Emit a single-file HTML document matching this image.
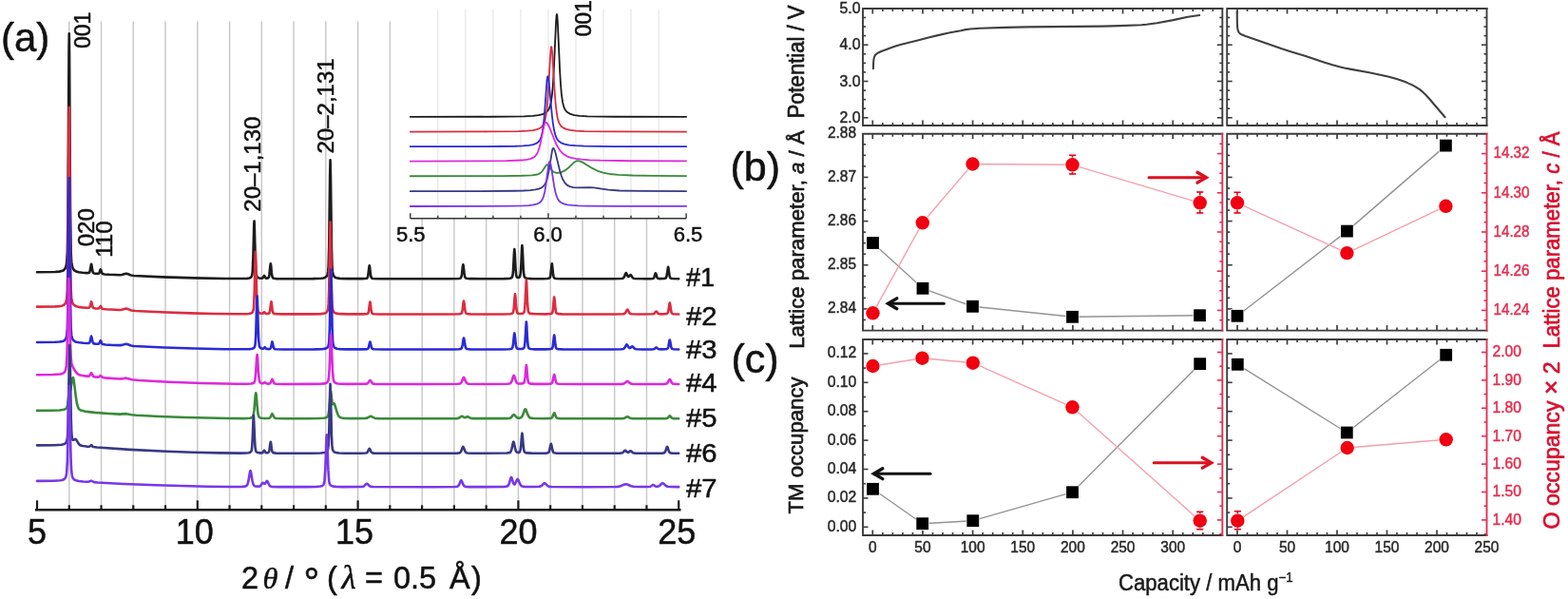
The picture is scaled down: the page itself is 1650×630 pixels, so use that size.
<!DOCTYPE html><html><head><meta charset="utf-8"><title>Figure</title><style>html,body{margin:0;padding:0;background:#fff;width:1650px;height:630px;overflow:hidden}svg{display:block;filter:blur(0.3px)}</style></head><body><svg width="1650" height="630" viewBox="0 0 1650 630"><rect width="100%" height="100%" fill="#fff"/><line x1="72.76" y1="22.5" x2="72.76" y2="535.3" stroke="#c6c6c6" stroke-width="1.4"/><line x1="106.52" y1="22.5" x2="106.52" y2="535.3" stroke="#c6c6c6" stroke-width="1.4"/><line x1="140.28" y1="22.5" x2="140.28" y2="535.3" stroke="#c6c6c6" stroke-width="1.4"/><line x1="174.04" y1="22.5" x2="174.04" y2="535.3" stroke="#c6c6c6" stroke-width="1.4"/><line x1="207.8" y1="22.5" x2="207.8" y2="535.3" stroke="#c6c6c6" stroke-width="1.4"/><line x1="241.56" y1="22.5" x2="241.56" y2="535.3" stroke="#c6c6c6" stroke-width="1.4"/><line x1="275.32" y1="22.5" x2="275.32" y2="535.3" stroke="#c6c6c6" stroke-width="1.4"/><line x1="309.08" y1="22.5" x2="309.08" y2="535.3" stroke="#c6c6c6" stroke-width="1.4"/><line x1="342.84" y1="22.5" x2="342.84" y2="535.3" stroke="#c6c6c6" stroke-width="1.4"/><line x1="376.6" y1="22.5" x2="376.6" y2="535.3" stroke="#c6c6c6" stroke-width="1.4"/><line x1="410.36" y1="22.5" x2="410.36" y2="535.3" stroke="#c6c6c6" stroke-width="1.4"/><line x1="444.12" y1="22.5" x2="444.12" y2="535.3" stroke="#c6c6c6" stroke-width="1.4"/><line x1="477.88" y1="22.5" x2="477.88" y2="535.3" stroke="#c6c6c6" stroke-width="1.4"/><line x1="511.64" y1="22.5" x2="511.64" y2="535.3" stroke="#c6c6c6" stroke-width="1.4"/><line x1="545.4" y1="22.5" x2="545.4" y2="535.3" stroke="#c6c6c6" stroke-width="1.4"/><line x1="579.16" y1="22.5" x2="579.16" y2="535.3" stroke="#c6c6c6" stroke-width="1.4"/><line x1="612.92" y1="22.5" x2="612.92" y2="535.3" stroke="#c6c6c6" stroke-width="1.4"/><line x1="646.68" y1="22.5" x2="646.68" y2="535.3" stroke="#c6c6c6" stroke-width="1.4"/><line x1="680.44" y1="22.5" x2="680.44" y2="535.3" stroke="#c6c6c6" stroke-width="1.4"/><polyline points="39,286.23 58.04,285.96 62.36,285.64 65.2,285.06 67.22,284.01 68.57,282.37 69.52,279.91 70.19,276.24 70.87,264.96 71.41,232.55 72.49,54.93 72.76,35.29 73.03,54.95 73.98,217.93 74.65,265.08 75.19,275.17 76,280.13 76.68,282.1 77.62,283.68 78.7,284.7 80.19,285.5 82.75,286.23 86.67,286.81 91.4,287.16 93.56,286.95 94.23,286.29 94.64,285.17 95.99,277.7 96.12,277.71 96.39,278.68 97.2,284.07 97.88,286.54 98.28,287.1 98.82,287.42 100.98,287.81 103.14,287.87 104.09,287.47 104.63,286.55 105.44,283.95 105.84,283.28 106.25,284 107.2,287.04 108.01,288.04 109.76,288.43 115.03,288.82 126.24,289.22 128.26,288.96 131.5,287.98 132.72,287.81 134.07,288.06 137.85,289.54 140.82,290.05 170.66,291.41 203.75,292.41 236.29,293.01 255.87,293.06 259.93,292.88 262.36,292.49 263.84,291.81 264.79,290.71 265.33,288.97 265.73,285.7 266.41,270.92 267.22,238.31 267.49,232.51 267.62,232.51 268.7,270.91 269.24,283.88 269.92,289.57 270.46,290.94 271.13,291.7 271.94,292.18 273.16,292.55 275.86,292.69 276.67,292.15 277.62,290.39 278.02,289.98 278.43,290.39 279.24,291.97 279.91,292.59 281.4,292.64 282.48,292.1 283.02,290.95 283.42,288.9 284.37,279.4 284.77,277.19 285.04,278.24 285.85,286.73 286.39,290.47 287.07,292.18 288.15,292.77 290.71,293.09 295.98,293.21 329.61,293.15 337.98,292.82 340.27,292.49 341.89,291.98 342.84,291.43 343.65,290.63 344.33,289.48 344.73,288.33 345.27,285.18 345.68,279.34 346.22,259.94 347.16,185.56 347.57,168.29 347.97,185.56 348.92,259.94 349.46,279.34 349.86,285.18 350.54,288.78 351.08,290.02 351.75,290.95 352.7,291.7 353.78,292.2 357.56,292.86 364.85,293.14 381.33,293.17 384.3,293.03 385.92,292.71 386.73,291.98 387.27,290.27 388.48,280.18 388.75,279.27 389.02,280.19 389.83,287.61 390.37,290.87 391.05,292.36 391.59,292.72 392.67,292.98 398.21,293.22 418.73,293.28 472.75,293.26 482.61,293.03 483.82,292.83 484.63,292.48 485.04,292.06 485.44,291.15 485.98,288.5 486.93,280.06 487.33,278.29 487.74,280.06 488.55,287.51 489.09,290.67 489.76,292.23 490.71,292.79 494.62,293.17 506.51,293.26 529.2,293.19 536.22,292.83 537.57,292.5 538.51,291.96 539.05,291.17 539.46,289.71 540,284.89 540.94,266.41 541.35,262.11 541.75,266.37 542.56,282.8 543.1,288.73 543.51,290.59 543.91,291.38 544.59,291.85 545.67,291.95 546.62,291.53 547.16,290.71 547.83,287.04 548.37,278.91 549.18,260.41 549.45,258.13 549.86,262.98 550.67,281.61 551.21,288.36 551.61,290.51 552.02,291.47 552.83,292.22 554.18,292.7 559.04,293.12 570.79,293.2 576.05,293.04 578.21,292.53 578.89,291.66 579.3,290.21 580.51,278.86 580.78,277.35 580.92,277.35 582,287.42 582.54,290.82 582.94,291.94 583.35,292.44 584.02,292.77 585.24,293.01 590.37,293.22 606.03,293.28 644.38,293.26 653.7,293.06 655.32,292.77 656.27,292.1 657.08,290.75 658.29,287.74 658.83,287.14 659.24,287.44 660.45,290.09 661.13,290.96 661.8,290.9 663.15,289.23 663.7,289.1 665.86,292.2 666.67,292.76 667.61,293 679.09,293.24 684.76,293.18 687.06,292.98 687.73,292.68 688.27,291.98 689.49,287.97 689.89,287.26 690.3,287.96 691.38,291.68 692.19,292.75 694.21,293.1 698.67,293.01 700.43,292.56 700.83,292.15 701.24,291.3 701.78,288.89 702.99,280.82 703.13,280.82 703.4,281.84 704.61,290.32 705.02,291.66 705.42,292.33 706.1,292.77 707.58,293.05 714.2,293.25" fill="none" stroke="#1c1c1c" stroke-width="2.6" stroke-linejoin="round" stroke-linecap="round"/><polyline points="39,322.64 58.04,322.42 62.36,322.14 65.2,321.66 67.22,320.79 68.57,319.41 69.52,317.35 70.19,314.28 70.87,304.84 71.41,277.73 72.49,129.13 72.76,112.69 73.03,129.15 73.98,265.52 74.65,304.99 75.19,313.44 76,317.6 76.68,319.26 77.62,320.6 78.84,321.56 80.32,322.22 82.89,322.86 86.53,323.38 91.26,323.77 93.56,323.7 94.23,323.25 94.64,322.48 95.99,317.29 96.39,317.98 97.47,322.69 97.88,323.53 98.42,324.01 100.85,324.49 103.82,324.52 104.49,324.05 105.44,322.33 105.84,321.95 106.25,322.39 107.2,324.24 107.74,324.74 108.82,325.04 111.65,325.31 125.97,326.01 128.13,325.78 131.64,324.75 132.85,324.62 134.07,324.88 138.25,326.48 142.58,327.04 168.5,328.31 200.24,329.41 226.3,330.02 249.39,330.3 259.39,330.19 261.95,329.99 263.71,329.64 265.19,328.9 266.14,327.71 266.68,325.82 267.08,322.29 267.76,306.29 268.57,271.01 268.84,264.74 268.97,264.74 270.05,306.29 270.59,320.32 271.27,326.48 271.81,327.95 272.48,328.78 273.97,329.56 276,329.81 276.67,329.53 278.02,328.14 279.37,329.63 280.05,329.98 281.94,329.97 283.15,329.51 283.69,328.57 284.1,326.9 285.04,319.18 285.45,317.39 285.72,318.25 286.53,325.15 287.07,328.18 287.74,329.57 288.82,330.06 291.25,330.31 296.52,330.42 329.07,330.39 337.71,330.15 341.76,329.52 343.52,328.55 344.6,326.99 345.27,324.2 345.68,319.67 346.22,304.61 347.16,246.89 347.57,233.49 347.97,246.89 348.92,304.61 349.46,319.67 349.86,324.2 350.54,326.99 351.08,327.95 351.75,328.67 352.7,329.26 353.78,329.64 357.69,330.17 365.39,330.38 381.87,330.39 384.84,330.27 386.46,330 387,329.74 387.4,329.28 387.94,327.69 389.16,318.33 389.43,317.48 389.7,318.33 390.51,325.22 391.05,328.25 391.72,329.63 392.26,329.96 393.34,330.2 398.88,330.43 419.54,330.48 473.42,330.46 483.28,330.25 485.31,329.74 485.71,329.34 486.12,328.49 486.66,326.02 487.6,318.14 488.01,316.49 488.41,318.14 489.22,325.1 489.76,328.04 490.44,329.51 491.38,330.02 494.49,330.36 502.32,330.46 528.93,330.43 536.89,330.18 539.19,329.6 539.73,329.07 540.13,328.08 540.67,324.82 541.62,312.31 542.02,309.4 542.43,312.3 543.37,324.78 544.05,328.44 544.59,329.31 545.4,329.73 547.02,329.95 549.05,329.83 550.4,329.41 551.21,328.73 551.61,327.88 552.02,325.96 552.56,319.73 553.77,294.59 553.91,294.59 554.18,298.01 554.99,317.26 555.66,325.99 556.07,327.92 556.47,328.78 557.28,329.48 558.5,329.91 562.96,330.32 573.62,330.39 578.48,330.2 580.51,329.68 581.19,328.83 581.73,326.62 582.94,313.65 583.21,312.48 583.62,314.97 584.43,324.53 584.97,328 585.37,329.11 585.78,329.59 587.53,330.16 591.45,330.39 601.31,330.47 645.33,330.47 655.19,330.32 656.67,330.1 657.62,329.56 658.43,328.45 659.64,325.97 660.18,325.49 660.72,325.97 661.94,328.45 662.61,329.42 663.42,330 664.51,330.26 673.42,330.46 686.92,330.32 687.87,330.12 688.54,329.73 690.03,327.82 690.57,327.47 691.11,327.82 692.46,329.59 693.4,330.15 695.83,330.36 700.29,330.24 702.05,329.84 702.86,328.77 703.4,326.65 704.34,319.9 704.75,318.48 705.15,319.9 706.23,327.34 706.64,328.77 707.04,329.5 707.72,329.97 708.8,330.21 714.2,330.44" fill="none" stroke="#dc2c40" stroke-width="2.6" stroke-linejoin="round" stroke-linecap="round"/><polyline points="39,359.95 58.04,359.77 62.36,359.54 65.2,359.14 67.22,358.42 68.57,357.29 69.52,355.59 70.19,353.06 70.87,345.29 71.41,322.95 72.49,200.53 72.76,186.99 73.03,200.55 73.98,312.91 74.65,345.42 75.19,352.39 75.6,354.52 76.14,356.16 76.81,357.41 77.76,358.43 78.97,359.18 80.46,359.72 83.43,360.31 87.88,360.81 91.94,361.05 93.69,360.86 94.23,360.39 94.64,359.5 95.99,353.54 96.39,354.33 97.2,358.66 97.88,360.65 98.82,361.36 101.25,361.73 103.28,361.78 104.09,361.48 104.63,360.75 105.44,358.69 105.84,358.16 106.25,358.74 107.2,361.19 107.6,361.73 108.14,362.06 110.84,362.43 118.81,362.94 126.78,363.13 128.4,362.88 131.5,361.93 132.72,361.77 134.07,362.03 137.85,363.52 140.96,364.04 172.69,365.56 204.56,366.57 236.16,367.2 258.17,367.31 262.76,367.15 265.33,366.79 266.81,366.19 267.76,365.25 268.3,363.84 268.7,361.22 269.24,352.53 270.19,319.21 270.59,311.47 270.86,315.13 271.67,344.8 272.21,357.86 272.89,363.82 273.43,365.23 274.1,365.98 275.46,366.62 276.81,366.75 277.48,366.4 278.7,365.16 279.91,366.55 280.59,367 282.48,367.14 284.1,366.88 284.64,366.38 285.04,365.47 286.39,359.44 286.8,360.2 287.61,364.49 288.15,366.19 288.82,366.94 289.9,367.21 298.68,367.44 330.82,367.4 338.65,367.18 342.43,366.65 344.19,365.82 345.27,364.46 345.95,362.04 346.35,358.12 346.89,345.08 347.84,295.1 348.24,283.49 348.65,295.1 349.59,345.08 350.13,358.12 350.54,362.04 351.21,364.46 352.43,365.92 354.45,366.76 357.96,367.19 364.58,367.38 381.33,367.42 386.32,367.16 387.27,366.7 387.81,365.76 389.02,360.42 389.43,359.48 389.83,360.42 390.78,364.93 391.32,366.34 392.13,367.05 393.62,367.31 403.2,367.47 457.35,367.49 476.93,367.45 483.01,367.27 485.04,366.87 485.58,366.44 485.98,365.72 486.66,363.06 487.6,356.72 488.01,355.49 488.41,356.72 489.76,364.92 490.44,366.44 491.52,367.06 494.62,367.36 501.92,367.46 527.84,367.44 535.95,367.23 538.38,366.72 538.92,366.25 539.32,365.45 540,362.02 540.94,352.44 541.35,350.43 541.75,352.43 542.83,362.96 543.51,365.74 544.05,366.48 544.99,366.88 546.89,367.07 549.05,366.96 550.4,366.62 551.21,366.07 551.61,365.39 552.02,363.84 552.56,358.82 553.77,338.57 553.91,338.57 554.18,341.33 554.99,356.83 555.66,363.87 556.07,365.42 556.47,366.11 557.28,366.67 558.5,367.02 563.09,367.35 573.76,367.41 578.48,367.25 580.51,366.82 581.19,366.1 581.73,364.27 582.94,353.46 583.21,352.48 583.62,354.55 584.43,362.53 584.97,365.42 585.37,366.34 585.78,366.74 587.53,367.22 591.99,367.42 604.68,367.48 644.11,367.46 653.97,367.3 655.59,367.07 656.67,366.5 657.48,365.51 658.97,362.8 659.51,362.4 660.05,362.77 661.4,365.11 662.21,365.95 662.61,366.07 663.15,365.93 664.78,364.48 665.32,364.34 665.86,364.65 667.75,366.64 668.56,367.05 669.5,367.25 676.25,367.44 687.06,367.36 688.54,366.97 690.03,365.7 690.57,365.47 691.11,365.7 692.46,366.88 693.4,367.25 696.1,367.39 700.29,367.28 702.05,366.95 702.86,366.06 703.4,364.29 704.34,358.67 704.75,357.49 705.15,358.67 706.23,364.87 706.64,366.06 707.04,366.67 707.72,367.06 708.8,367.25 714.2,367.45" fill="none" stroke="#2a2ad6" stroke-width="2.6" stroke-linejoin="round" stroke-linecap="round"/><polyline points="39,394.23 55.88,394.03 63.31,393.48 65.47,392.96 67.09,392.12 68.17,391.01 68.98,389.36 69.79,384.92 70.46,373.73 71,354.72 72.08,299.24 72.35,292.98 72.49,292.84 72.9,303.85 74.11,362.39 74.65,375.57 75.19,381.46 75.6,383.46 76.14,384.91 78.7,389.56 80.32,391.94 81.54,393.17 82.75,393.96 84.24,394.53 86.4,395.01 91.13,395.61 93.42,395.61 94.37,394.94 95.58,392.65 95.99,392.22 96.39,392.5 98.01,395.62 98.69,396.12 99.9,396.43 103.55,396.63 104.22,396.34 105.44,395.24 105.84,395.1 107.74,396.83 109.63,397.35 125.7,398.52 128.13,398.41 131.64,397.74 132.85,397.67 138.79,399.32 145.82,399.98 177.69,401.73 211.45,403.02 247.91,403.78 258.98,403.8 264.25,403.54 266.14,403.14 267.22,402.54 267.89,401.47 268.3,400.01 268.97,394.61 270.19,375.72 270.59,372.96 271,375.72 271.94,391.06 272.62,398.38 273.02,400.59 273.43,401.77 273.97,402.52 274.64,402.95 275.73,403.25 276.67,403.24 278.7,402.19 280.99,403.55 282.48,403.65 283.69,403.48 284.23,403.18 284.77,402.5 285.99,399.49 286.39,398.92 286.8,399.23 288.42,402.94 289.23,403.56 290.44,403.78 299.49,403.95 328.66,403.91 337.03,403.76 341.35,403.4 343.52,402.77 344.73,401.81 345.41,400.34 345.95,397.36 346.62,388.3 347.84,356.62 348.24,351.99 348.65,356.62 349.86,388.3 350.67,398.36 351.21,400.76 352.02,402.12 353.37,402.94 355.53,403.46 359.18,403.75 365.53,403.89 385.24,403.78 386.19,403.58 387,403.12 388.89,400.36 389.43,399.98 389.97,400.36 391.18,402.34 391.99,403.23 393.07,403.7 394.83,403.86 456.95,403.98 481.39,403.82 483.82,403.54 485.04,402.82 485.98,401.3 487.47,397.54 488.01,396.99 488.55,397.54 489.9,400.99 490.71,402.49 491.65,403.33 492.87,403.68 504.35,403.96 533.25,403.8 536.22,403.47 537.03,403.11 537.57,402.62 538.51,400.86 540.13,395.65 540.67,394.94 540.94,395.13 541.35,396 542.97,401.16 543.91,402.72 544.59,403.2 545.54,403.47 548.91,403.52 550.94,402.99 551.48,402.39 551.88,401.32 552.56,396.9 553.77,384 553.91,384 554.18,385.62 555.12,396.92 555.8,401.36 556.2,402.43 556.74,403.04 558.77,403.63 563.23,403.87 573.08,403.91 577.81,403.79 579.97,403.48 580.78,402.9 581.32,401.84 582.81,394.87 583.21,393.98 583.62,394.87 584.7,400.43 585.37,402.47 585.78,403.06 586.32,403.43 588.34,403.78 604.01,403.98 653.97,403.88 655.73,403.73 656.94,403.35 659.51,401.25 660.18,400.99 660.86,401.25 663.29,403.28 664.24,403.64 665.59,403.83 678.82,403.98 698.94,403.87 700.97,403.68 702.05,403.18 702.86,402.19 704.21,399.47 704.75,399 705.29,399.47 706.91,402.6 707.85,403.44 709.47,403.81 714.2,403.95" fill="none" stroke="#dc28dc" stroke-width="2.6" stroke-linejoin="round" stroke-linecap="round"/><polyline points="39,431.92 54.53,431.78 62.63,431.46 67.22,430.81 68.71,430.27 69.65,429.62 70.46,428.41 71.14,425.85 72.76,411.27 73.03,410.56 73.84,411.16 74.25,410.38 76,399.25 76.41,397.58 76.81,397.04 77.22,397.76 77.76,400.45 79.78,417.05 80.86,423.85 81.94,427.92 82.62,429.39 83.43,430.48 84.51,431.29 85.86,431.85 90.86,432.9 99.5,433.84 114.22,434.96 126.1,435.63 132.85,435.16 138.39,436.27 143.39,436.71 167.96,437.95 195.24,438.99 241.42,440.03 256.55,440.09 262.9,439.78 264.65,439.39 265.6,438.85 266.14,438.13 266.68,436.59 267.49,431.23 268.7,416.46 268.97,414.13 269.24,413.27 269.65,415.14 270.86,429.87 271.54,435.31 272.35,438.14 272.89,438.86 273.83,439.4 275.46,439.77 278.02,439.99 281.53,440.02 283.29,439.81 283.96,439.46 284.5,438.86 285.99,435.68 286.39,435.23 286.93,435.68 288.01,438.17 288.69,439.24 289.5,439.81 290.85,440.06 298.95,440.23 323.93,440.21 334.33,440.07 339.87,439.79 342.3,439.41 343.92,438.82 344.87,437.94 345.41,436.7 346.22,431.87 347.57,414.07 347.97,411.68 348.38,413.35 349.19,421.07 349.73,424.25 350,424.91 350.27,425.1 351.48,424.35 352.16,425.08 354.72,433.83 355.8,436.61 356.75,438.08 357.96,439.04 359.45,439.52 362.02,439.84 371.74,440.15 384.03,440.07 386.32,439.62 389.16,438.02 390.1,437.76 391.05,438.02 394.16,439.73 395.64,440.04 397.8,440.17 478.15,440.21 480.99,440.1 482.47,439.82 483.55,439.28 485.31,437.93 485.98,437.71 486.66,437.89 488.28,438.95 489.09,439.17 489.9,439.04 491.65,438.23 492.33,438.22 495.17,439.77 497.46,440.15 531.76,440.17 535.27,440.02 536.89,439.65 537.97,438.93 539.86,436.65 540.67,436.17 541.35,436.49 543.78,439.12 544.86,439.58 546.21,439.68 548.1,439.23 549.32,438.07 550.26,436.21 552.02,431.26 552.42,430.52 552.83,430.25 553.5,430.98 555.39,436.24 556.61,438.49 557.28,439.14 558.23,439.61 561.06,440.01 573.49,440.2 579.7,439.92 580.51,439.56 581.19,438.77 582.67,434.98 583.21,434.27 583.62,434.69 584.83,437.96 585.64,439.33 586.72,439.93 588.75,440.14 653.97,440.22 656.94,439.87 659.51,438.46 660.18,438.29 660.86,438.46 663.29,439.82 665.59,440.19 699.35,440.22 701.37,440.11 702.32,439.82 703.13,439.14 704.34,437.5 704.75,437.3 705.29,437.65 706.64,439.43 707.58,439.99 709.2,440.19 714.2,440.27" fill="none" stroke="#3a8a3a" stroke-width="2.6" stroke-linejoin="round" stroke-linecap="round"/><polyline points="39,468.35 57.23,468.2 64.66,467.76 66.82,467.3 68.3,466.6 69.38,465.58 70.19,464.01 70.73,461.59 71.14,457.47 71.68,444.51 72.9,373.65 73.3,363.14 73.71,377.33 74.79,441.54 75.19,453.24 75.73,460.02 76.14,461.87 76.68,462.72 77.35,462.78 78.97,461.84 79.65,461.94 80.32,462.63 82.35,466.08 83.56,467.58 85.05,468.53 87.07,469.06 91.13,469.58 93.83,469.7 94.64,469.38 95.99,468.08 96.39,468.28 97.47,469.62 98.15,470.05 102.06,470.55 136.5,472.84 174.85,474.72 202.94,475.72 230.76,476.38 253.85,476.61 258.85,476.52 261.68,476.25 263.17,475.81 264.11,475.09 264.65,473.94 265.06,471.8 265.73,462.11 266.54,440.73 266.81,436.93 266.95,436.93 268.03,462.11 268.57,470.61 269.24,474.35 269.78,475.24 270.46,475.74 272.75,476.34 275.86,476.34 276.67,475.79 277.62,474.01 278.02,473.59 278.43,474 279.24,475.58 279.91,476.21 281.26,476.32 282.48,475.91 283.02,475.05 283.42,473.51 284.37,466.38 284.77,464.73 285.04,465.51 285.85,471.88 286.39,474.68 287.07,475.97 288.15,476.41 290.58,476.64 295.44,476.73 327.99,476.73 337.44,476.55 341.76,476.06 343.52,475.34 344.6,474.16 345.27,472.06 345.68,468.65 346.22,457.31 347.16,413.88 347.57,403.79 347.97,413.88 348.92,457.31 349.46,468.65 349.86,472.06 350.54,474.16 351.75,475.42 353.78,476.15 357.02,476.51 363.1,476.69 379.03,476.73 384.84,476.56 385.92,476.27 386.59,475.71 388.21,472.37 388.75,471.78 389.16,472.13 390.37,474.86 391.05,475.86 391.99,476.43 393.75,476.65 447.9,476.79 481.12,476.63 483.42,476.38 484.63,475.65 485.44,474.26 486.79,470.46 487.33,469.79 487.87,470.46 489.09,473.93 489.76,475.29 490.57,476.11 491.79,476.49 495.71,476.7 505.29,476.76 533.25,476.55 536.22,476.12 536.89,475.75 537.43,475.13 538.38,472.64 539.86,465.59 540.13,464.87 540.4,464.71 540.81,465.57 542.16,472.01 542.97,474.5 543.91,475.63 544.59,475.87 545.54,475.88 546.35,475.68 546.89,475.27 547.29,474.52 547.7,472.93 548.24,468.53 549.05,458.13 549.45,455.66 549.86,458.15 550.8,469.99 551.34,473.7 551.75,474.98 552.29,475.71 553.1,476.12 554.58,476.42 559.31,476.67 569.44,476.71 574.43,476.59 576.59,476.27 577.4,475.69 577.94,474.64 579.43,467.67 579.84,466.78 580.24,467.67 581.32,473.23 582,475.27 582.4,475.85 582.94,476.23 584.97,476.58 601.04,476.78 652.22,476.67 653.84,476.54 654.92,476.22 655.86,475.53 657.21,474.02 657.89,473.72 658.43,473.99 659.64,475.25 660.45,475.74 661.4,475.63 663.02,474.37 663.56,474.2 664.1,474.41 666.13,476.14 668.15,476.63 682.87,476.77 696.64,476.63 698.67,476.35 699.62,475.69 700.43,474.1 701.64,470.28 702.05,469.79 702.59,470.62 703.94,474.77 704.48,475.69 705.02,476.17 705.83,476.46 707.18,476.61 714.2,476.76" fill="none" stroke="#383886" stroke-width="2.6" stroke-linejoin="round" stroke-linecap="round"/><polyline points="39,505.85 56.42,505.69 63.71,505.23 65.87,504.75 67.49,503.98 68.57,502.93 69.38,501.32 69.79,499.68 70.19,496.61 70.87,484.49 72.35,414.8 72.76,405.9 73.17,414.82 74.38,475.82 74.79,488.04 75.33,496.77 76,501.07 76.41,502.24 77.08,503.37 78.03,504.3 79.24,505 82.75,505.94 87.34,506.49 92.21,506.78 93.69,506.57 95.99,505.66 99.09,507.11 102.6,507.52 130.83,508.97 164.45,510.3 218.74,511.69 243.99,511.98 255.33,511.83 257.49,511.62 258.85,511.28 259.66,510.75 260.33,509.75 261.41,505.93 263.03,496.16 263.3,495.32 263.57,495.15 264.11,496.78 265.46,505.2 266.27,508.68 267.22,510.58 267.89,511.12 268.84,511.44 271.67,511.67 273.43,511.36 274.51,510.51 276.4,507.86 276.94,507.76 278.16,508.73 278.83,508.78 279.37,508.26 280.59,506.18 280.99,505.9 281.67,506.55 283.02,509.59 283.83,510.85 284.77,511.54 286.26,511.87 295.31,512.12 322.99,512.11 332.44,511.95 337.03,511.55 339.06,510.93 340.27,509.97 340.95,508.56 341.49,505.73 342.3,494.16 343.52,460.66 343.79,457.33 343.92,457.33 344.33,463.69 345.41,494.16 346.22,505.73 346.76,508.56 347.57,510.13 348.92,511.05 351.21,511.64 354.72,511.93 360.8,512.08 380.65,511.98 382,511.76 382.95,511.35 385.38,508.97 386.05,508.68 386.73,508.97 388.48,510.83 389.43,511.5 390.64,511.89 392.67,512.06 453.84,512.18 478.69,512.02 481.12,511.74 482.34,511.01 483.28,509.49 484.77,505.73 485.31,505.19 485.85,505.73 487.2,509.18 488.01,510.69 488.95,511.53 490.17,511.87 493.95,512.08 502.86,512.15 530.14,511.95 533.38,511.58 534.19,511.22 534.87,510.57 535.95,508.17 537.43,502.74 537.97,501.92 538.24,502.1 538.65,503.04 540.13,508.08 540.94,509.37 541.48,509.42 542.02,508.93 544.05,504.57 544.72,503.95 545.4,504.66 547.16,508.97 548.24,510.68 548.91,511.23 549.72,511.57 552.29,511.9 562.14,512.06 567.82,511.81 569.71,511.05 572.27,508.52 573.08,508.17 573.89,508.53 575.78,510.51 577,511.39 578.48,511.85 580.78,512.04 615.35,512.18 647.36,512.02 649.92,511.85 651.95,511.5 653.7,510.93 657.08,509.44 658.56,509.19 660.05,509.49 664.24,511.26 666.8,511.81 671.53,512.06 681.66,512.05 684.36,511.73 686.65,510.24 687.19,510.08 687.73,510.22 690.03,511.62 691.11,511.76 692.32,511.61 693.81,510.95 696.37,508.57 697.32,508.16 698.27,508.58 700.83,510.99 702.59,511.76 705.56,512.04 714.2,512.15" fill="none" stroke="#7838e8" stroke-width="2.6" stroke-linejoin="round" stroke-linecap="round"/><line x1="38.3" y1="536.3" x2="715.2" y2="536.3" stroke="#1a1a1a" stroke-width="2.6" stroke-linecap="square"/><line x1="39" y1="536.3" x2="39" y2="526.3" stroke="#1a1a1a" stroke-width="2.2"/><line x1="72.76" y1="536.3" x2="72.76" y2="531.3" stroke="#1a1a1a" stroke-width="2.2"/><line x1="106.52" y1="536.3" x2="106.52" y2="531.3" stroke="#1a1a1a" stroke-width="2.2"/><line x1="140.28" y1="536.3" x2="140.28" y2="531.3" stroke="#1a1a1a" stroke-width="2.2"/><line x1="174.04" y1="536.3" x2="174.04" y2="531.3" stroke="#1a1a1a" stroke-width="2.2"/><line x1="207.8" y1="536.3" x2="207.8" y2="526.3" stroke="#1a1a1a" stroke-width="2.2"/><line x1="241.56" y1="536.3" x2="241.56" y2="531.3" stroke="#1a1a1a" stroke-width="2.2"/><line x1="275.32" y1="536.3" x2="275.32" y2="531.3" stroke="#1a1a1a" stroke-width="2.2"/><line x1="309.08" y1="536.3" x2="309.08" y2="531.3" stroke="#1a1a1a" stroke-width="2.2"/><line x1="342.84" y1="536.3" x2="342.84" y2="531.3" stroke="#1a1a1a" stroke-width="2.2"/><line x1="376.6" y1="536.3" x2="376.6" y2="526.3" stroke="#1a1a1a" stroke-width="2.2"/><line x1="410.36" y1="536.3" x2="410.36" y2="531.3" stroke="#1a1a1a" stroke-width="2.2"/><line x1="444.12" y1="536.3" x2="444.12" y2="531.3" stroke="#1a1a1a" stroke-width="2.2"/><line x1="477.88" y1="536.3" x2="477.88" y2="531.3" stroke="#1a1a1a" stroke-width="2.2"/><line x1="511.64" y1="536.3" x2="511.64" y2="531.3" stroke="#1a1a1a" stroke-width="2.2"/><line x1="545.4" y1="536.3" x2="545.4" y2="526.3" stroke="#1a1a1a" stroke-width="2.2"/><line x1="579.16" y1="536.3" x2="579.16" y2="531.3" stroke="#1a1a1a" stroke-width="2.2"/><line x1="612.92" y1="536.3" x2="612.92" y2="531.3" stroke="#1a1a1a" stroke-width="2.2"/><line x1="646.68" y1="536.3" x2="646.68" y2="531.3" stroke="#1a1a1a" stroke-width="2.2"/><line x1="680.44" y1="536.3" x2="680.44" y2="531.3" stroke="#1a1a1a" stroke-width="2.2"/><line x1="714.2" y1="536.3" x2="714.2" y2="526.3" stroke="#1a1a1a" stroke-width="2.2"/><text x="39" y="572" font-size="36" fill="#111" text-anchor="middle" font-weight="normal" font-family="'Liberation Sans', Arial, Helvetica, sans-serif" stroke="#111" stroke-width="0.5" stroke-linejoin="round">5</text><text x="204.8" y="572" font-size="36" fill="#111" text-anchor="middle" font-weight="normal" font-family="'Liberation Sans', Arial, Helvetica, sans-serif" stroke="#111" stroke-width="0.5" stroke-linejoin="round">10</text><text x="373.1" y="572" font-size="36" fill="#111" text-anchor="middle" font-weight="normal" font-family="'Liberation Sans', Arial, Helvetica, sans-serif" stroke="#111" stroke-width="0.5" stroke-linejoin="round">15</text><text x="545.4" y="572" font-size="36" fill="#111" text-anchor="middle" font-weight="normal" font-family="'Liberation Sans', Arial, Helvetica, sans-serif" stroke="#111" stroke-width="0.5" stroke-linejoin="round">20</text><text x="712.2" y="572" font-size="36" fill="#111" text-anchor="middle" font-weight="normal" font-family="'Liberation Sans', Arial, Helvetica, sans-serif" stroke="#111" stroke-width="0.5" stroke-linejoin="round">25</text><text y="618.7" font-size="32.5" fill="#111" stroke="#111" stroke-width="0.5" font-family="'Liberation Sans', Arial, Helvetica, sans-serif"><tspan x="254">2</tspan><tspan x="276.5" font-family="'Liberation Serif', 'Times New Roman', serif" font-style="italic">θ</tspan><tspan x="300">/</tspan><tspan x="319.5" dy="8" font-size="42">°</tspan><tspan x="344" dy="-8">(</tspan><tspan x="359.5" font-size="35" font-family="'Liberation Serif', 'Times New Roman', serif" font-style="italic">λ</tspan><tspan x="384">=</tspan><tspan x="414">0.5</tspan><tspan x="473">Å</tspan><tspan x="496">)</tspan></text><text x="722" y="300.7" font-size="27" fill="#111" text-anchor="start" font-weight="normal" font-family="'Liberation Sans', Arial, Helvetica, sans-serif" stroke="#111" stroke-width="0.5" stroke-linejoin="round">#1</text><text x="722" y="341.8" font-size="27" fill="#111" text-anchor="start" font-weight="normal" font-family="'Liberation Sans', Arial, Helvetica, sans-serif" textLength="32.5" lengthAdjust="spacingAndGlyphs" stroke="#111" stroke-width="0.5" stroke-linejoin="round">#2</text><text x="722" y="376.5" font-size="27" fill="#111" text-anchor="start" font-weight="normal" font-family="'Liberation Sans', Arial, Helvetica, sans-serif" textLength="32.5" lengthAdjust="spacingAndGlyphs" stroke="#111" stroke-width="0.5" stroke-linejoin="round">#3</text><text x="722" y="412.4" font-size="27" fill="#111" text-anchor="start" font-weight="normal" font-family="'Liberation Sans', Arial, Helvetica, sans-serif" textLength="32.5" lengthAdjust="spacingAndGlyphs" stroke="#111" stroke-width="0.5" stroke-linejoin="round">#4</text><text x="722" y="448.7" font-size="27" fill="#111" text-anchor="start" font-weight="normal" font-family="'Liberation Sans', Arial, Helvetica, sans-serif" textLength="32.5" lengthAdjust="spacingAndGlyphs" stroke="#111" stroke-width="0.5" stroke-linejoin="round">#5</text><text x="722" y="485.9" font-size="27" fill="#111" text-anchor="start" font-weight="normal" font-family="'Liberation Sans', Arial, Helvetica, sans-serif" textLength="32.5" lengthAdjust="spacingAndGlyphs" stroke="#111" stroke-width="0.5" stroke-linejoin="round">#6</text><text x="722" y="523" font-size="27" fill="#111" text-anchor="start" font-weight="normal" font-family="'Liberation Sans', Arial, Helvetica, sans-serif" textLength="32.5" lengthAdjust="spacingAndGlyphs" stroke="#111" stroke-width="0.5" stroke-linejoin="round">#7</text><text x="1" y="54" font-size="42" fill="#111" text-anchor="start" font-weight="normal" font-family="'Liberation Sans', Arial, Helvetica, sans-serif" stroke="#111" stroke-width="0.5" stroke-linejoin="round">(a)</text><text transform="translate(94.5,51) rotate(-90)" x="0" y="0" font-size="23" fill="#111" text-anchor="start" font-weight="normal" font-family="'Liberation Sans', Arial, Helvetica, sans-serif" stroke="#111" stroke-width="0.5" stroke-linejoin="round">001</text><text transform="translate(98.5,259.3) rotate(-90)" x="0" y="0" font-size="24" fill="#111" text-anchor="start" font-weight="normal" font-family="'Liberation Sans', Arial, Helvetica, sans-serif" stroke="#111" stroke-width="0.5" stroke-linejoin="round">020</text><text transform="translate(118,270.7) rotate(-90)" x="0" y="0" font-size="24" fill="#111" text-anchor="start" font-weight="normal" font-family="'Liberation Sans', Arial, Helvetica, sans-serif" stroke="#111" stroke-width="0.5" stroke-linejoin="round">110</text><text transform="translate(273.5,222.7) rotate(-90)" x="0" y="0" font-size="24" fill="#111" text-anchor="start" font-weight="normal" font-family="'Liberation Sans', Arial, Helvetica, sans-serif" stroke="#111" stroke-width="0.5" stroke-linejoin="round">20–1,130</text><text transform="translate(350.5,161.5) rotate(-90)" x="0" y="0" font-size="24" fill="#111" text-anchor="start" font-weight="normal" font-family="'Liberation Sans', Arial, Helvetica, sans-serif" stroke="#111" stroke-width="0.5" stroke-linejoin="round">20–2,131</text><rect x="431.3" y="0" width="291.3" height="229.8" fill="#fff"/><line x1="460.83" y1="9.5" x2="460.83" y2="229" stroke="#e2e2e2" stroke-width="1"/><line x1="489.86" y1="9.5" x2="489.86" y2="229" stroke="#e2e2e2" stroke-width="1"/><line x1="518.89" y1="9.5" x2="518.89" y2="229" stroke="#e2e2e2" stroke-width="1"/><line x1="547.92" y1="9.5" x2="547.92" y2="229" stroke="#e2e2e2" stroke-width="1"/><line x1="576.95" y1="9.5" x2="576.95" y2="229" stroke="#e2e2e2" stroke-width="1"/><line x1="605.98" y1="9.5" x2="605.98" y2="229" stroke="#e2e2e2" stroke-width="1"/><line x1="635.01" y1="9.5" x2="635.01" y2="229" stroke="#e2e2e2" stroke-width="1"/><line x1="664.04" y1="9.5" x2="664.04" y2="229" stroke="#e2e2e2" stroke-width="1"/><line x1="693.07" y1="9.5" x2="693.07" y2="229" stroke="#e2e2e2" stroke-width="1"/><polyline points="431.8,122.87 519.18,122.76 551.69,122.36 560.69,121.91 566.79,121.2 571.14,120.1 572.89,119.34 574.34,118.45 575.79,117.19 576.95,115.73 577.82,114.21 578.69,112.05 579.85,107.4 581.01,99.09 581.89,89.03 582.76,74.69 585.08,23.1 585.66,15.87 585.95,14.9 586.24,15.87 586.82,23.1 589.14,74.69 590.01,89.03 590.88,99.09 592.05,107.4 593.21,112.05 594.08,114.21 594.95,115.73 596.11,117.19 597.27,118.24 600.17,119.88 604.24,121.04 610.04,121.82 618.17,122.29 647.2,122.73 722.1,122.87" fill="none" stroke="#1c1c1c" stroke-width="1.8" stroke-linejoin="round" stroke-linecap="round"/><polyline points="431.8,138.57 513.95,138.47 545.6,138.12 554.6,137.72 560.69,137.1 565.05,136.15 568.24,134.74 569.69,133.68 570.85,132.47 571.72,131.2 572.6,129.43 573.76,125.7 574.92,119.19 575.79,111.47 576.66,100.57 579.27,55.31 579.85,49.83 580.14,49.1 580.43,49.71 581.01,54.33 583.92,100.02 584.79,110.24 585.66,117.75 586.82,124.39 588.27,129.12 590.01,132.11 591.17,133.33 592.63,134.42 595.82,135.88 600.17,136.91 606.27,137.59 614.98,138.03 645.46,138.44 722.1,138.57" fill="none" stroke="#dc2c40" stroke-width="1.8" stroke-linejoin="round" stroke-linecap="round"/><polyline points="431.8,154.17 511.05,154.08 541.82,153.76 550.53,153.42 556.63,152.88 560.98,152.06 564.18,150.87 565.63,149.98 566.79,148.98 568.53,146.49 569.69,143.49 570.85,138.39 572.01,129.97 572.89,120.82 575.5,84.9 576.08,80.75 576.37,80.2 576.66,80.54 576.95,81.55 577.53,85.33 580.72,120.07 581.89,129.78 583.05,136.78 584.5,142.45 585.95,145.83 586.82,147.17 587.98,148.47 590.59,150.29 594.08,151.61 599.01,152.58 605.4,153.2 614.69,153.62 646.33,154.03 722.1,154.16" fill="none" stroke="#2a2ad6" stroke-width="1.8" stroke-linejoin="round" stroke-linecap="round"/><polyline points="431.8,169.57 502.05,169.47 533.11,169.19 549.08,168.52 554.31,167.91 558.08,167.09 560.98,165.92 563.02,164.43 564.76,162.23 566.21,159.31 567.66,155.02 568.82,150.41 572.6,131.6 573.47,129.11 574.05,128.6 574.63,128.72 575.5,129.35 577.24,131.99 578.69,135.22 584.5,149.75 586.53,153.84 588.85,157.59 591.47,160.71 594.08,162.9 596.98,164.53 600.75,165.87 605.69,166.9 612.08,167.69 620.5,168.29 631.24,168.72 663.17,169.23 722.1,169.47" fill="none" stroke="#dc28dc" stroke-width="1.8" stroke-linejoin="round" stroke-linecap="round"/><polyline points="431.8,185.26 529.63,185.05 549.08,184.77 559.82,184.28 565.34,183.49 567.08,182.89 568.53,182.08 569.69,181.1 570.85,179.78 574.63,174 575.21,173.47 575.79,173.27 576.37,173.4 577.24,174.19 580.14,178.43 582.18,180.52 583.34,181.22 584.5,181.63 585.95,181.83 587.4,181.79 589.14,181.5 591.17,180.9 594.66,179.16 598.14,176.5 604.53,170.45 606.27,169.44 607.72,169.16 610.33,169.56 612.95,170.62 623.11,176.91 628.91,179.78 634.72,181.69 641.4,182.99 650.98,183.9 665.78,184.49 688.13,184.86 722.1,185.08" fill="none" stroke="#3a8a3a" stroke-width="1.8" stroke-linejoin="round" stroke-linecap="round"/><polyline points="431.8,201.16 507.28,201.04 540.95,200.76 550.82,200.48 558.08,200.05 563.31,199.43 567.08,198.58 569.98,197.36 572.01,195.77 573.47,193.81 574.92,190.63 576.08,186.82 577.24,181.58 581.01,158.6 581.59,156.57 582.18,155.84 582.47,155.92 583.05,156.54 584.21,159.46 589.14,179.8 590.59,184.52 592.05,188.2 593.79,191.41 595.53,193.58 597.56,195.19 600.17,196.38 603.37,197.11 607.43,197.47 620.5,197.19 624.85,197.31 640.24,199.66 651.85,200.5 674.49,200.91 722.1,201.09" fill="none" stroke="#383886" stroke-width="1.8" stroke-linejoin="round" stroke-linecap="round"/><polyline points="431.8,216.98 509.31,216.9 540.95,216.67 550.24,216.42 556.63,216.04 561.27,215.48 564.76,214.66 567.37,213.52 569.4,211.81 570.85,209.54 572.01,206.55 573.18,201.99 574.05,197.28 577.24,173.74 577.82,170.99 578.11,170.25 578.4,170 578.98,170.75 579.85,174.34 583.05,195.2 584.21,201.04 585.37,205.37 586.82,209 588.27,211.24 590.3,213.04 593.21,214.38 596.98,215.29 601.92,215.91 608.59,216.33 617.59,216.6 648.65,216.87 722.1,216.97" fill="none" stroke="#7838e8" stroke-width="1.8" stroke-linejoin="round" stroke-linecap="round"/><line x1="431.8" y1="229.8" x2="722.1" y2="229.8" stroke="#333" stroke-width="1.6"/><line x1="431.8" y1="229.8" x2="431.8" y2="224.3" stroke="#333" stroke-width="1.4"/><line x1="460.83" y1="229.8" x2="460.83" y2="226.8" stroke="#333" stroke-width="1.4"/><line x1="489.86" y1="229.8" x2="489.86" y2="226.8" stroke="#333" stroke-width="1.4"/><line x1="518.89" y1="229.8" x2="518.89" y2="226.8" stroke="#333" stroke-width="1.4"/><line x1="547.92" y1="229.8" x2="547.92" y2="226.8" stroke="#333" stroke-width="1.4"/><line x1="576.95" y1="229.8" x2="576.95" y2="224.3" stroke="#333" stroke-width="1.4"/><line x1="605.98" y1="229.8" x2="605.98" y2="226.8" stroke="#333" stroke-width="1.4"/><line x1="635.01" y1="229.8" x2="635.01" y2="226.8" stroke="#333" stroke-width="1.4"/><line x1="664.04" y1="229.8" x2="664.04" y2="226.8" stroke="#333" stroke-width="1.4"/><line x1="693.07" y1="229.8" x2="693.07" y2="226.8" stroke="#333" stroke-width="1.4"/><line x1="722.1" y1="229.8" x2="722.1" y2="224.3" stroke="#333" stroke-width="1.4"/><text x="432.2" y="254" font-size="22" fill="#111" text-anchor="middle" font-weight="normal" font-family="'Liberation Sans', Arial, Helvetica, sans-serif" stroke="#111" stroke-width="0.5" stroke-linejoin="round">5.5</text><text x="576.55" y="254" font-size="22" fill="#111" text-anchor="middle" font-weight="normal" font-family="'Liberation Sans', Arial, Helvetica, sans-serif" stroke="#111" stroke-width="0.5" stroke-linejoin="round">6.0</text><text x="724" y="254" font-size="22" fill="#111" text-anchor="middle" font-weight="normal" font-family="'Liberation Sans', Arial, Helvetica, sans-serif" stroke="#111" stroke-width="0.5" stroke-linejoin="round">6.5</text><text transform="translate(622,38.5) rotate(-90)" x="0" y="0" font-size="23" fill="#111" text-anchor="start" font-weight="normal" font-family="'Liberation Sans', Arial, Helvetica, sans-serif" stroke="#111" stroke-width="0.5" stroke-linejoin="round">001</text><line x1="918.3" y1="9" x2="918.3" y2="14.5" stroke="#3c3c3c" stroke-width="1.7"/><line x1="918.3" y1="132" x2="918.3" y2="126.5" stroke="#3c3c3c" stroke-width="1.7"/><line x1="928.83" y1="9" x2="928.83" y2="12" stroke="#3c3c3c" stroke-width="1.7"/><line x1="928.83" y1="132" x2="928.83" y2="129" stroke="#3c3c3c" stroke-width="1.7"/><line x1="939.36" y1="9" x2="939.36" y2="12" stroke="#3c3c3c" stroke-width="1.7"/><line x1="939.36" y1="132" x2="939.36" y2="129" stroke="#3c3c3c" stroke-width="1.7"/><line x1="949.89" y1="9" x2="949.89" y2="12" stroke="#3c3c3c" stroke-width="1.7"/><line x1="949.89" y1="132" x2="949.89" y2="129" stroke="#3c3c3c" stroke-width="1.7"/><line x1="960.42" y1="9" x2="960.42" y2="12" stroke="#3c3c3c" stroke-width="1.7"/><line x1="960.42" y1="132" x2="960.42" y2="129" stroke="#3c3c3c" stroke-width="1.7"/><line x1="970.95" y1="9" x2="970.95" y2="14.5" stroke="#3c3c3c" stroke-width="1.7"/><line x1="970.95" y1="132" x2="970.95" y2="126.5" stroke="#3c3c3c" stroke-width="1.7"/><line x1="981.48" y1="9" x2="981.48" y2="12" stroke="#3c3c3c" stroke-width="1.7"/><line x1="981.48" y1="132" x2="981.48" y2="129" stroke="#3c3c3c" stroke-width="1.7"/><line x1="992.01" y1="9" x2="992.01" y2="12" stroke="#3c3c3c" stroke-width="1.7"/><line x1="992.01" y1="132" x2="992.01" y2="129" stroke="#3c3c3c" stroke-width="1.7"/><line x1="1002.54" y1="9" x2="1002.54" y2="12" stroke="#3c3c3c" stroke-width="1.7"/><line x1="1002.54" y1="132" x2="1002.54" y2="129" stroke="#3c3c3c" stroke-width="1.7"/><line x1="1013.07" y1="9" x2="1013.07" y2="12" stroke="#3c3c3c" stroke-width="1.7"/><line x1="1013.07" y1="132" x2="1013.07" y2="129" stroke="#3c3c3c" stroke-width="1.7"/><line x1="1023.6" y1="9" x2="1023.6" y2="14.5" stroke="#3c3c3c" stroke-width="1.7"/><line x1="1023.6" y1="132" x2="1023.6" y2="126.5" stroke="#3c3c3c" stroke-width="1.7"/><line x1="1034.13" y1="9" x2="1034.13" y2="12" stroke="#3c3c3c" stroke-width="1.7"/><line x1="1034.13" y1="132" x2="1034.13" y2="129" stroke="#3c3c3c" stroke-width="1.7"/><line x1="1044.66" y1="9" x2="1044.66" y2="12" stroke="#3c3c3c" stroke-width="1.7"/><line x1="1044.66" y1="132" x2="1044.66" y2="129" stroke="#3c3c3c" stroke-width="1.7"/><line x1="1055.19" y1="9" x2="1055.19" y2="12" stroke="#3c3c3c" stroke-width="1.7"/><line x1="1055.19" y1="132" x2="1055.19" y2="129" stroke="#3c3c3c" stroke-width="1.7"/><line x1="1065.72" y1="9" x2="1065.72" y2="12" stroke="#3c3c3c" stroke-width="1.7"/><line x1="1065.72" y1="132" x2="1065.72" y2="129" stroke="#3c3c3c" stroke-width="1.7"/><line x1="1076.25" y1="9" x2="1076.25" y2="14.5" stroke="#3c3c3c" stroke-width="1.7"/><line x1="1076.25" y1="132" x2="1076.25" y2="126.5" stroke="#3c3c3c" stroke-width="1.7"/><line x1="1086.78" y1="9" x2="1086.78" y2="12" stroke="#3c3c3c" stroke-width="1.7"/><line x1="1086.78" y1="132" x2="1086.78" y2="129" stroke="#3c3c3c" stroke-width="1.7"/><line x1="1097.31" y1="9" x2="1097.31" y2="12" stroke="#3c3c3c" stroke-width="1.7"/><line x1="1097.31" y1="132" x2="1097.31" y2="129" stroke="#3c3c3c" stroke-width="1.7"/><line x1="1107.84" y1="9" x2="1107.84" y2="12" stroke="#3c3c3c" stroke-width="1.7"/><line x1="1107.84" y1="132" x2="1107.84" y2="129" stroke="#3c3c3c" stroke-width="1.7"/><line x1="1118.37" y1="9" x2="1118.37" y2="12" stroke="#3c3c3c" stroke-width="1.7"/><line x1="1118.37" y1="132" x2="1118.37" y2="129" stroke="#3c3c3c" stroke-width="1.7"/><line x1="1128.9" y1="9" x2="1128.9" y2="14.5" stroke="#3c3c3c" stroke-width="1.7"/><line x1="1128.9" y1="132" x2="1128.9" y2="126.5" stroke="#3c3c3c" stroke-width="1.7"/><line x1="1139.43" y1="9" x2="1139.43" y2="12" stroke="#3c3c3c" stroke-width="1.7"/><line x1="1139.43" y1="132" x2="1139.43" y2="129" stroke="#3c3c3c" stroke-width="1.7"/><line x1="1149.96" y1="9" x2="1149.96" y2="12" stroke="#3c3c3c" stroke-width="1.7"/><line x1="1149.96" y1="132" x2="1149.96" y2="129" stroke="#3c3c3c" stroke-width="1.7"/><line x1="1160.49" y1="9" x2="1160.49" y2="12" stroke="#3c3c3c" stroke-width="1.7"/><line x1="1160.49" y1="132" x2="1160.49" y2="129" stroke="#3c3c3c" stroke-width="1.7"/><line x1="1171.02" y1="9" x2="1171.02" y2="12" stroke="#3c3c3c" stroke-width="1.7"/><line x1="1171.02" y1="132" x2="1171.02" y2="129" stroke="#3c3c3c" stroke-width="1.7"/><line x1="1181.55" y1="9" x2="1181.55" y2="14.5" stroke="#3c3c3c" stroke-width="1.7"/><line x1="1181.55" y1="132" x2="1181.55" y2="126.5" stroke="#3c3c3c" stroke-width="1.7"/><line x1="1192.08" y1="9" x2="1192.08" y2="12" stroke="#3c3c3c" stroke-width="1.7"/><line x1="1192.08" y1="132" x2="1192.08" y2="129" stroke="#3c3c3c" stroke-width="1.7"/><line x1="1202.61" y1="9" x2="1202.61" y2="12" stroke="#3c3c3c" stroke-width="1.7"/><line x1="1202.61" y1="132" x2="1202.61" y2="129" stroke="#3c3c3c" stroke-width="1.7"/><line x1="1213.14" y1="9" x2="1213.14" y2="12" stroke="#3c3c3c" stroke-width="1.7"/><line x1="1213.14" y1="132" x2="1213.14" y2="129" stroke="#3c3c3c" stroke-width="1.7"/><line x1="1223.67" y1="9" x2="1223.67" y2="12" stroke="#3c3c3c" stroke-width="1.7"/><line x1="1223.67" y1="132" x2="1223.67" y2="129" stroke="#3c3c3c" stroke-width="1.7"/><line x1="1234.2" y1="9" x2="1234.2" y2="14.5" stroke="#3c3c3c" stroke-width="1.7"/><line x1="1234.2" y1="132" x2="1234.2" y2="126.5" stroke="#3c3c3c" stroke-width="1.7"/><line x1="1244.73" y1="9" x2="1244.73" y2="12" stroke="#3c3c3c" stroke-width="1.7"/><line x1="1244.73" y1="132" x2="1244.73" y2="129" stroke="#3c3c3c" stroke-width="1.7"/><line x1="1255.26" y1="9" x2="1255.26" y2="12" stroke="#3c3c3c" stroke-width="1.7"/><line x1="1255.26" y1="132" x2="1255.26" y2="129" stroke="#3c3c3c" stroke-width="1.7"/><line x1="1265.79" y1="9" x2="1265.79" y2="12" stroke="#3c3c3c" stroke-width="1.7"/><line x1="1265.79" y1="132" x2="1265.79" y2="129" stroke="#3c3c3c" stroke-width="1.7"/><line x1="1276.32" y1="9" x2="1276.32" y2="12" stroke="#3c3c3c" stroke-width="1.7"/><line x1="1276.32" y1="132" x2="1276.32" y2="129" stroke="#3c3c3c" stroke-width="1.7"/><line x1="908" y1="123.8" x2="913.5" y2="123.8" stroke="#3c3c3c" stroke-width="1.6"/><line x1="908" y1="114.22" x2="911" y2="114.22" stroke="#3c3c3c" stroke-width="1.6"/><line x1="908" y1="104.65" x2="911" y2="104.65" stroke="#3c3c3c" stroke-width="1.6"/><line x1="908" y1="95.08" x2="911" y2="95.08" stroke="#3c3c3c" stroke-width="1.6"/><line x1="908" y1="85.5" x2="913.5" y2="85.5" stroke="#3c3c3c" stroke-width="1.6"/><line x1="908" y1="75.92" x2="911" y2="75.92" stroke="#3c3c3c" stroke-width="1.6"/><line x1="908" y1="66.35" x2="911" y2="66.35" stroke="#3c3c3c" stroke-width="1.6"/><line x1="908" y1="56.78" x2="911" y2="56.78" stroke="#3c3c3c" stroke-width="1.6"/><line x1="908" y1="47.2" x2="913.5" y2="47.2" stroke="#3c3c3c" stroke-width="1.6"/><line x1="908" y1="37.62" x2="911" y2="37.62" stroke="#3c3c3c" stroke-width="1.6"/><line x1="908" y1="28.05" x2="911" y2="28.05" stroke="#3c3c3c" stroke-width="1.6"/><line x1="908" y1="18.48" x2="911" y2="18.48" stroke="#3c3c3c" stroke-width="1.6"/><line x1="908" y1="8.9" x2="913.5" y2="8.9" stroke="#3c3c3c" stroke-width="1.6"/><line x1="1286.3" y1="123.8" x2="1280.8" y2="123.8" stroke="#3c3c3c" stroke-width="1.6"/><line x1="1286.3" y1="114.22" x2="1283.3" y2="114.22" stroke="#3c3c3c" stroke-width="1.6"/><line x1="1286.3" y1="104.65" x2="1283.3" y2="104.65" stroke="#3c3c3c" stroke-width="1.6"/><line x1="1286.3" y1="95.08" x2="1283.3" y2="95.08" stroke="#3c3c3c" stroke-width="1.6"/><line x1="1286.3" y1="85.5" x2="1280.8" y2="85.5" stroke="#3c3c3c" stroke-width="1.6"/><line x1="1286.3" y1="75.92" x2="1283.3" y2="75.92" stroke="#3c3c3c" stroke-width="1.6"/><line x1="1286.3" y1="66.35" x2="1283.3" y2="66.35" stroke="#3c3c3c" stroke-width="1.6"/><line x1="1286.3" y1="56.78" x2="1283.3" y2="56.78" stroke="#3c3c3c" stroke-width="1.6"/><line x1="1286.3" y1="47.2" x2="1280.8" y2="47.2" stroke="#3c3c3c" stroke-width="1.6"/><line x1="1286.3" y1="37.62" x2="1283.3" y2="37.62" stroke="#3c3c3c" stroke-width="1.6"/><line x1="1286.3" y1="28.05" x2="1283.3" y2="28.05" stroke="#3c3c3c" stroke-width="1.6"/><line x1="1286.3" y1="18.48" x2="1283.3" y2="18.48" stroke="#3c3c3c" stroke-width="1.6"/><line x1="1286.3" y1="8.9" x2="1280.8" y2="8.9" stroke="#3c3c3c" stroke-width="1.6"/><path d="M908,9 V132 M908,9 H1286.3 M908,132 H1286.3" stroke="#3c3c3c" stroke-width="1.9" fill="none" stroke-linecap="square"/><path d="M1286.3,9 V132" stroke="#3c3c3c" stroke-width="1.9" fill="none" stroke-linecap="square"/><line x1="1302" y1="9" x2="1302" y2="14.5" stroke="#3c3c3c" stroke-width="1.7"/><line x1="1302" y1="132" x2="1302" y2="126.5" stroke="#3c3c3c" stroke-width="1.7"/><line x1="1312.5" y1="9" x2="1312.5" y2="12" stroke="#3c3c3c" stroke-width="1.7"/><line x1="1312.5" y1="132" x2="1312.5" y2="129" stroke="#3c3c3c" stroke-width="1.7"/><line x1="1323" y1="9" x2="1323" y2="12" stroke="#3c3c3c" stroke-width="1.7"/><line x1="1323" y1="132" x2="1323" y2="129" stroke="#3c3c3c" stroke-width="1.7"/><line x1="1333.5" y1="9" x2="1333.5" y2="12" stroke="#3c3c3c" stroke-width="1.7"/><line x1="1333.5" y1="132" x2="1333.5" y2="129" stroke="#3c3c3c" stroke-width="1.7"/><line x1="1344" y1="9" x2="1344" y2="12" stroke="#3c3c3c" stroke-width="1.7"/><line x1="1344" y1="132" x2="1344" y2="129" stroke="#3c3c3c" stroke-width="1.7"/><line x1="1354.5" y1="9" x2="1354.5" y2="14.5" stroke="#3c3c3c" stroke-width="1.7"/><line x1="1354.5" y1="132" x2="1354.5" y2="126.5" stroke="#3c3c3c" stroke-width="1.7"/><line x1="1365" y1="9" x2="1365" y2="12" stroke="#3c3c3c" stroke-width="1.7"/><line x1="1365" y1="132" x2="1365" y2="129" stroke="#3c3c3c" stroke-width="1.7"/><line x1="1375.5" y1="9" x2="1375.5" y2="12" stroke="#3c3c3c" stroke-width="1.7"/><line x1="1375.5" y1="132" x2="1375.5" y2="129" stroke="#3c3c3c" stroke-width="1.7"/><line x1="1386" y1="9" x2="1386" y2="12" stroke="#3c3c3c" stroke-width="1.7"/><line x1="1386" y1="132" x2="1386" y2="129" stroke="#3c3c3c" stroke-width="1.7"/><line x1="1396.5" y1="9" x2="1396.5" y2="12" stroke="#3c3c3c" stroke-width="1.7"/><line x1="1396.5" y1="132" x2="1396.5" y2="129" stroke="#3c3c3c" stroke-width="1.7"/><line x1="1407" y1="9" x2="1407" y2="14.5" stroke="#3c3c3c" stroke-width="1.7"/><line x1="1407" y1="132" x2="1407" y2="126.5" stroke="#3c3c3c" stroke-width="1.7"/><line x1="1417.5" y1="9" x2="1417.5" y2="12" stroke="#3c3c3c" stroke-width="1.7"/><line x1="1417.5" y1="132" x2="1417.5" y2="129" stroke="#3c3c3c" stroke-width="1.7"/><line x1="1428" y1="9" x2="1428" y2="12" stroke="#3c3c3c" stroke-width="1.7"/><line x1="1428" y1="132" x2="1428" y2="129" stroke="#3c3c3c" stroke-width="1.7"/><line x1="1438.5" y1="9" x2="1438.5" y2="12" stroke="#3c3c3c" stroke-width="1.7"/><line x1="1438.5" y1="132" x2="1438.5" y2="129" stroke="#3c3c3c" stroke-width="1.7"/><line x1="1449" y1="9" x2="1449" y2="12" stroke="#3c3c3c" stroke-width="1.7"/><line x1="1449" y1="132" x2="1449" y2="129" stroke="#3c3c3c" stroke-width="1.7"/><line x1="1459.5" y1="9" x2="1459.5" y2="14.5" stroke="#3c3c3c" stroke-width="1.7"/><line x1="1459.5" y1="132" x2="1459.5" y2="126.5" stroke="#3c3c3c" stroke-width="1.7"/><line x1="1470" y1="9" x2="1470" y2="12" stroke="#3c3c3c" stroke-width="1.7"/><line x1="1470" y1="132" x2="1470" y2="129" stroke="#3c3c3c" stroke-width="1.7"/><line x1="1480.5" y1="9" x2="1480.5" y2="12" stroke="#3c3c3c" stroke-width="1.7"/><line x1="1480.5" y1="132" x2="1480.5" y2="129" stroke="#3c3c3c" stroke-width="1.7"/><line x1="1491" y1="9" x2="1491" y2="12" stroke="#3c3c3c" stroke-width="1.7"/><line x1="1491" y1="132" x2="1491" y2="129" stroke="#3c3c3c" stroke-width="1.7"/><line x1="1501.5" y1="9" x2="1501.5" y2="12" stroke="#3c3c3c" stroke-width="1.7"/><line x1="1501.5" y1="132" x2="1501.5" y2="129" stroke="#3c3c3c" stroke-width="1.7"/><line x1="1512" y1="9" x2="1512" y2="14.5" stroke="#3c3c3c" stroke-width="1.7"/><line x1="1512" y1="132" x2="1512" y2="126.5" stroke="#3c3c3c" stroke-width="1.7"/><line x1="1522.5" y1="9" x2="1522.5" y2="12" stroke="#3c3c3c" stroke-width="1.7"/><line x1="1522.5" y1="132" x2="1522.5" y2="129" stroke="#3c3c3c" stroke-width="1.7"/><line x1="1533" y1="9" x2="1533" y2="12" stroke="#3c3c3c" stroke-width="1.7"/><line x1="1533" y1="132" x2="1533" y2="129" stroke="#3c3c3c" stroke-width="1.7"/><line x1="1543.5" y1="9" x2="1543.5" y2="12" stroke="#3c3c3c" stroke-width="1.7"/><line x1="1543.5" y1="132" x2="1543.5" y2="129" stroke="#3c3c3c" stroke-width="1.7"/><line x1="1554" y1="9" x2="1554" y2="12" stroke="#3c3c3c" stroke-width="1.7"/><line x1="1554" y1="132" x2="1554" y2="129" stroke="#3c3c3c" stroke-width="1.7"/><line x1="1291.2" y1="123.8" x2="1296.7" y2="123.8" stroke="#3c3c3c" stroke-width="1.6"/><line x1="1291.2" y1="114.22" x2="1294.2" y2="114.22" stroke="#3c3c3c" stroke-width="1.6"/><line x1="1291.2" y1="104.65" x2="1294.2" y2="104.65" stroke="#3c3c3c" stroke-width="1.6"/><line x1="1291.2" y1="95.08" x2="1294.2" y2="95.08" stroke="#3c3c3c" stroke-width="1.6"/><line x1="1291.2" y1="85.5" x2="1296.7" y2="85.5" stroke="#3c3c3c" stroke-width="1.6"/><line x1="1291.2" y1="75.92" x2="1294.2" y2="75.92" stroke="#3c3c3c" stroke-width="1.6"/><line x1="1291.2" y1="66.35" x2="1294.2" y2="66.35" stroke="#3c3c3c" stroke-width="1.6"/><line x1="1291.2" y1="56.78" x2="1294.2" y2="56.78" stroke="#3c3c3c" stroke-width="1.6"/><line x1="1291.2" y1="47.2" x2="1296.7" y2="47.2" stroke="#3c3c3c" stroke-width="1.6"/><line x1="1291.2" y1="37.62" x2="1294.2" y2="37.62" stroke="#3c3c3c" stroke-width="1.6"/><line x1="1291.2" y1="28.05" x2="1294.2" y2="28.05" stroke="#3c3c3c" stroke-width="1.6"/><line x1="1291.2" y1="18.48" x2="1294.2" y2="18.48" stroke="#3c3c3c" stroke-width="1.6"/><line x1="1291.2" y1="8.9" x2="1296.7" y2="8.9" stroke="#3c3c3c" stroke-width="1.6"/><line x1="1564.5" y1="123.8" x2="1559" y2="123.8" stroke="#3c3c3c" stroke-width="1.6"/><line x1="1564.5" y1="114.22" x2="1561.5" y2="114.22" stroke="#3c3c3c" stroke-width="1.6"/><line x1="1564.5" y1="104.65" x2="1561.5" y2="104.65" stroke="#3c3c3c" stroke-width="1.6"/><line x1="1564.5" y1="95.08" x2="1561.5" y2="95.08" stroke="#3c3c3c" stroke-width="1.6"/><line x1="1564.5" y1="85.5" x2="1559" y2="85.5" stroke="#3c3c3c" stroke-width="1.6"/><line x1="1564.5" y1="75.92" x2="1561.5" y2="75.92" stroke="#3c3c3c" stroke-width="1.6"/><line x1="1564.5" y1="66.35" x2="1561.5" y2="66.35" stroke="#3c3c3c" stroke-width="1.6"/><line x1="1564.5" y1="56.78" x2="1561.5" y2="56.78" stroke="#3c3c3c" stroke-width="1.6"/><line x1="1564.5" y1="47.2" x2="1559" y2="47.2" stroke="#3c3c3c" stroke-width="1.6"/><line x1="1564.5" y1="37.62" x2="1561.5" y2="37.62" stroke="#3c3c3c" stroke-width="1.6"/><line x1="1564.5" y1="28.05" x2="1561.5" y2="28.05" stroke="#3c3c3c" stroke-width="1.6"/><line x1="1564.5" y1="18.48" x2="1561.5" y2="18.48" stroke="#3c3c3c" stroke-width="1.6"/><line x1="1564.5" y1="8.9" x2="1559" y2="8.9" stroke="#3c3c3c" stroke-width="1.6"/><path d="M1291.2,9 V132 M1291.2,9 H1564.5 M1291.2,132 H1564.5" stroke="#3c3c3c" stroke-width="1.9" fill="none" stroke-linecap="square"/><path d="M1564.5,9 V132" stroke="#3c3c3c" stroke-width="1.9" fill="none" stroke-linecap="square"/><polyline points="918.9,72.2 919.06,66.74 919.3,63.54 919.7,61.05 920.3,59.21 921.06,57.86 921.89,57.04 924.22,55.49 926.72,54.29 941.57,48.74 948.36,46.66 966.7,42.2 977,39.5 985.94,37.37 998.62,34.58 1011,32.2 1016,31.1 1021,30.49 1031.04,29.7 1058.39,28.83 1080.49,28.36 1160,27.6 1178.9,27.1 1201.1,26.2 1206.38,25.77 1217.47,24.24 1234.4,21.1 1250,17.8 1262.2,16" fill="none" stroke="#404040" stroke-width="2.1" stroke-linejoin="round" stroke-linecap="round"/><polyline points="1301.7,12.2 1301.9,25 1302.08,28.32 1302.29,29.95 1302.92,32.54 1303.52,33.81 1304.91,35.44 1306.41,36.33 1310.68,38.03 1329.4,44.4 1348.84,51.25 1357.26,53.93 1373.9,58.9 1393.87,65.66 1402.23,68.31 1409.54,70.26 1414.69,71.47 1420.56,72.63 1440.6,76.2 1452.33,78.67 1460.5,80.54 1469.66,83 1476.38,85.29 1480.33,86.84 1486.03,89.4 1489.65,91.35 1494.02,94.18 1497.62,97.15 1500.11,99.53 1503.09,102.72 1520.6,123.3" fill="none" stroke="#404040" stroke-width="2.1" stroke-linejoin="round" stroke-linecap="round"/><text x="905.5" y="13.9" font-size="16" fill="#2a2a2a" text-anchor="end" font-weight="normal" font-family="'Liberation Sans', Arial, Helvetica, sans-serif" textLength="22" lengthAdjust="spacingAndGlyphs" stroke="#2a2a2a" stroke-width="0.5" stroke-linejoin="round">5.0</text><text x="905.5" y="52.2" font-size="16" fill="#2a2a2a" text-anchor="end" font-weight="normal" font-family="'Liberation Sans', Arial, Helvetica, sans-serif" textLength="22" lengthAdjust="spacingAndGlyphs" stroke="#2a2a2a" stroke-width="0.5" stroke-linejoin="round">4.0</text><text x="905.5" y="90.5" font-size="16" fill="#2a2a2a" text-anchor="end" font-weight="normal" font-family="'Liberation Sans', Arial, Helvetica, sans-serif" textLength="22" lengthAdjust="spacingAndGlyphs" stroke="#2a2a2a" stroke-width="0.5" stroke-linejoin="round">3.0</text><text x="905.5" y="128.8" font-size="16" fill="#2a2a2a" text-anchor="end" font-weight="normal" font-family="'Liberation Sans', Arial, Helvetica, sans-serif" textLength="22" lengthAdjust="spacingAndGlyphs" stroke="#2a2a2a" stroke-width="0.5" stroke-linejoin="round">2.0</text><line x1="918.3" y1="140.7" x2="918.3" y2="146.2" stroke="#3c3c3c" stroke-width="1.7"/><line x1="918.3" y1="347.6" x2="918.3" y2="342.1" stroke="#3c3c3c" stroke-width="1.7"/><line x1="928.83" y1="140.7" x2="928.83" y2="143.7" stroke="#3c3c3c" stroke-width="1.7"/><line x1="928.83" y1="347.6" x2="928.83" y2="344.6" stroke="#3c3c3c" stroke-width="1.7"/><line x1="939.36" y1="140.7" x2="939.36" y2="143.7" stroke="#3c3c3c" stroke-width="1.7"/><line x1="939.36" y1="347.6" x2="939.36" y2="344.6" stroke="#3c3c3c" stroke-width="1.7"/><line x1="949.89" y1="140.7" x2="949.89" y2="143.7" stroke="#3c3c3c" stroke-width="1.7"/><line x1="949.89" y1="347.6" x2="949.89" y2="344.6" stroke="#3c3c3c" stroke-width="1.7"/><line x1="960.42" y1="140.7" x2="960.42" y2="143.7" stroke="#3c3c3c" stroke-width="1.7"/><line x1="960.42" y1="347.6" x2="960.42" y2="344.6" stroke="#3c3c3c" stroke-width="1.7"/><line x1="970.95" y1="140.7" x2="970.95" y2="146.2" stroke="#3c3c3c" stroke-width="1.7"/><line x1="970.95" y1="347.6" x2="970.95" y2="342.1" stroke="#3c3c3c" stroke-width="1.7"/><line x1="981.48" y1="140.7" x2="981.48" y2="143.7" stroke="#3c3c3c" stroke-width="1.7"/><line x1="981.48" y1="347.6" x2="981.48" y2="344.6" stroke="#3c3c3c" stroke-width="1.7"/><line x1="992.01" y1="140.7" x2="992.01" y2="143.7" stroke="#3c3c3c" stroke-width="1.7"/><line x1="992.01" y1="347.6" x2="992.01" y2="344.6" stroke="#3c3c3c" stroke-width="1.7"/><line x1="1002.54" y1="140.7" x2="1002.54" y2="143.7" stroke="#3c3c3c" stroke-width="1.7"/><line x1="1002.54" y1="347.6" x2="1002.54" y2="344.6" stroke="#3c3c3c" stroke-width="1.7"/><line x1="1013.07" y1="140.7" x2="1013.07" y2="143.7" stroke="#3c3c3c" stroke-width="1.7"/><line x1="1013.07" y1="347.6" x2="1013.07" y2="344.6" stroke="#3c3c3c" stroke-width="1.7"/><line x1="1023.6" y1="140.7" x2="1023.6" y2="146.2" stroke="#3c3c3c" stroke-width="1.7"/><line x1="1023.6" y1="347.6" x2="1023.6" y2="342.1" stroke="#3c3c3c" stroke-width="1.7"/><line x1="1034.13" y1="140.7" x2="1034.13" y2="143.7" stroke="#3c3c3c" stroke-width="1.7"/><line x1="1034.13" y1="347.6" x2="1034.13" y2="344.6" stroke="#3c3c3c" stroke-width="1.7"/><line x1="1044.66" y1="140.7" x2="1044.66" y2="143.7" stroke="#3c3c3c" stroke-width="1.7"/><line x1="1044.66" y1="347.6" x2="1044.66" y2="344.6" stroke="#3c3c3c" stroke-width="1.7"/><line x1="1055.19" y1="140.7" x2="1055.19" y2="143.7" stroke="#3c3c3c" stroke-width="1.7"/><line x1="1055.19" y1="347.6" x2="1055.19" y2="344.6" stroke="#3c3c3c" stroke-width="1.7"/><line x1="1065.72" y1="140.7" x2="1065.72" y2="143.7" stroke="#3c3c3c" stroke-width="1.7"/><line x1="1065.72" y1="347.6" x2="1065.72" y2="344.6" stroke="#3c3c3c" stroke-width="1.7"/><line x1="1076.25" y1="140.7" x2="1076.25" y2="146.2" stroke="#3c3c3c" stroke-width="1.7"/><line x1="1076.25" y1="347.6" x2="1076.25" y2="342.1" stroke="#3c3c3c" stroke-width="1.7"/><line x1="1086.78" y1="140.7" x2="1086.78" y2="143.7" stroke="#3c3c3c" stroke-width="1.7"/><line x1="1086.78" y1="347.6" x2="1086.78" y2="344.6" stroke="#3c3c3c" stroke-width="1.7"/><line x1="1097.31" y1="140.7" x2="1097.31" y2="143.7" stroke="#3c3c3c" stroke-width="1.7"/><line x1="1097.31" y1="347.6" x2="1097.31" y2="344.6" stroke="#3c3c3c" stroke-width="1.7"/><line x1="1107.84" y1="140.7" x2="1107.84" y2="143.7" stroke="#3c3c3c" stroke-width="1.7"/><line x1="1107.84" y1="347.6" x2="1107.84" y2="344.6" stroke="#3c3c3c" stroke-width="1.7"/><line x1="1118.37" y1="140.7" x2="1118.37" y2="143.7" stroke="#3c3c3c" stroke-width="1.7"/><line x1="1118.37" y1="347.6" x2="1118.37" y2="344.6" stroke="#3c3c3c" stroke-width="1.7"/><line x1="1128.9" y1="140.7" x2="1128.9" y2="146.2" stroke="#3c3c3c" stroke-width="1.7"/><line x1="1128.9" y1="347.6" x2="1128.9" y2="342.1" stroke="#3c3c3c" stroke-width="1.7"/><line x1="1139.43" y1="140.7" x2="1139.43" y2="143.7" stroke="#3c3c3c" stroke-width="1.7"/><line x1="1139.43" y1="347.6" x2="1139.43" y2="344.6" stroke="#3c3c3c" stroke-width="1.7"/><line x1="1149.96" y1="140.7" x2="1149.96" y2="143.7" stroke="#3c3c3c" stroke-width="1.7"/><line x1="1149.96" y1="347.6" x2="1149.96" y2="344.6" stroke="#3c3c3c" stroke-width="1.7"/><line x1="1160.49" y1="140.7" x2="1160.49" y2="143.7" stroke="#3c3c3c" stroke-width="1.7"/><line x1="1160.49" y1="347.6" x2="1160.49" y2="344.6" stroke="#3c3c3c" stroke-width="1.7"/><line x1="1171.02" y1="140.7" x2="1171.02" y2="143.7" stroke="#3c3c3c" stroke-width="1.7"/><line x1="1171.02" y1="347.6" x2="1171.02" y2="344.6" stroke="#3c3c3c" stroke-width="1.7"/><line x1="1181.55" y1="140.7" x2="1181.55" y2="146.2" stroke="#3c3c3c" stroke-width="1.7"/><line x1="1181.55" y1="347.6" x2="1181.55" y2="342.1" stroke="#3c3c3c" stroke-width="1.7"/><line x1="1192.08" y1="140.7" x2="1192.08" y2="143.7" stroke="#3c3c3c" stroke-width="1.7"/><line x1="1192.08" y1="347.6" x2="1192.08" y2="344.6" stroke="#3c3c3c" stroke-width="1.7"/><line x1="1202.61" y1="140.7" x2="1202.61" y2="143.7" stroke="#3c3c3c" stroke-width="1.7"/><line x1="1202.61" y1="347.6" x2="1202.61" y2="344.6" stroke="#3c3c3c" stroke-width="1.7"/><line x1="1213.14" y1="140.7" x2="1213.14" y2="143.7" stroke="#3c3c3c" stroke-width="1.7"/><line x1="1213.14" y1="347.6" x2="1213.14" y2="344.6" stroke="#3c3c3c" stroke-width="1.7"/><line x1="1223.67" y1="140.7" x2="1223.67" y2="143.7" stroke="#3c3c3c" stroke-width="1.7"/><line x1="1223.67" y1="347.6" x2="1223.67" y2="344.6" stroke="#3c3c3c" stroke-width="1.7"/><line x1="1234.2" y1="140.7" x2="1234.2" y2="146.2" stroke="#3c3c3c" stroke-width="1.7"/><line x1="1234.2" y1="347.6" x2="1234.2" y2="342.1" stroke="#3c3c3c" stroke-width="1.7"/><line x1="1244.73" y1="140.7" x2="1244.73" y2="143.7" stroke="#3c3c3c" stroke-width="1.7"/><line x1="1244.73" y1="347.6" x2="1244.73" y2="344.6" stroke="#3c3c3c" stroke-width="1.7"/><line x1="1255.26" y1="140.7" x2="1255.26" y2="143.7" stroke="#3c3c3c" stroke-width="1.7"/><line x1="1255.26" y1="347.6" x2="1255.26" y2="344.6" stroke="#3c3c3c" stroke-width="1.7"/><line x1="1265.79" y1="140.7" x2="1265.79" y2="143.7" stroke="#3c3c3c" stroke-width="1.7"/><line x1="1265.79" y1="347.6" x2="1265.79" y2="344.6" stroke="#3c3c3c" stroke-width="1.7"/><line x1="1276.32" y1="140.7" x2="1276.32" y2="143.7" stroke="#3c3c3c" stroke-width="1.7"/><line x1="1276.32" y1="347.6" x2="1276.32" y2="344.6" stroke="#3c3c3c" stroke-width="1.7"/><line x1="908" y1="336.44" x2="911" y2="336.44" stroke="#3c3c3c" stroke-width="1.6"/><line x1="908" y1="324.9" x2="913.5" y2="324.9" stroke="#3c3c3c" stroke-width="1.6"/><line x1="908" y1="313.36" x2="911" y2="313.36" stroke="#3c3c3c" stroke-width="1.6"/><line x1="908" y1="301.82" x2="911" y2="301.82" stroke="#3c3c3c" stroke-width="1.6"/><line x1="908" y1="290.29" x2="911" y2="290.29" stroke="#3c3c3c" stroke-width="1.6"/><line x1="908" y1="278.75" x2="913.5" y2="278.75" stroke="#3c3c3c" stroke-width="1.6"/><line x1="908" y1="267.21" x2="911" y2="267.21" stroke="#3c3c3c" stroke-width="1.6"/><line x1="908" y1="255.67" x2="911" y2="255.67" stroke="#3c3c3c" stroke-width="1.6"/><line x1="908" y1="244.14" x2="911" y2="244.14" stroke="#3c3c3c" stroke-width="1.6"/><line x1="908" y1="232.6" x2="913.5" y2="232.6" stroke="#3c3c3c" stroke-width="1.6"/><line x1="908" y1="221.06" x2="911" y2="221.06" stroke="#3c3c3c" stroke-width="1.6"/><line x1="908" y1="209.52" x2="911" y2="209.52" stroke="#3c3c3c" stroke-width="1.6"/><line x1="908" y1="197.99" x2="911" y2="197.99" stroke="#3c3c3c" stroke-width="1.6"/><line x1="908" y1="186.45" x2="913.5" y2="186.45" stroke="#3c3c3c" stroke-width="1.6"/><line x1="908" y1="174.91" x2="911" y2="174.91" stroke="#3c3c3c" stroke-width="1.6"/><line x1="908" y1="163.37" x2="911" y2="163.37" stroke="#3c3c3c" stroke-width="1.6"/><line x1="908" y1="151.84" x2="911" y2="151.84" stroke="#3c3c3c" stroke-width="1.6"/><line x1="1286.3" y1="336.7" x2="1283.3" y2="336.7" stroke="#e3304f" stroke-width="1.6"/><line x1="1286.3" y1="326.4" x2="1280.8" y2="326.4" stroke="#e3304f" stroke-width="1.6"/><line x1="1286.3" y1="316.1" x2="1283.3" y2="316.1" stroke="#e3304f" stroke-width="1.6"/><line x1="1286.3" y1="305.8" x2="1283.3" y2="305.8" stroke="#e3304f" stroke-width="1.6"/><line x1="1286.3" y1="295.5" x2="1283.3" y2="295.5" stroke="#e3304f" stroke-width="1.6"/><line x1="1286.3" y1="285.2" x2="1280.8" y2="285.2" stroke="#e3304f" stroke-width="1.6"/><line x1="1286.3" y1="274.9" x2="1283.3" y2="274.9" stroke="#e3304f" stroke-width="1.6"/><line x1="1286.3" y1="264.6" x2="1283.3" y2="264.6" stroke="#e3304f" stroke-width="1.6"/><line x1="1286.3" y1="254.3" x2="1283.3" y2="254.3" stroke="#e3304f" stroke-width="1.6"/><line x1="1286.3" y1="244" x2="1280.8" y2="244" stroke="#e3304f" stroke-width="1.6"/><line x1="1286.3" y1="233.7" x2="1283.3" y2="233.7" stroke="#e3304f" stroke-width="1.6"/><line x1="1286.3" y1="223.4" x2="1283.3" y2="223.4" stroke="#e3304f" stroke-width="1.6"/><line x1="1286.3" y1="213.1" x2="1283.3" y2="213.1" stroke="#e3304f" stroke-width="1.6"/><line x1="1286.3" y1="202.8" x2="1280.8" y2="202.8" stroke="#e3304f" stroke-width="1.6"/><line x1="1286.3" y1="192.5" x2="1283.3" y2="192.5" stroke="#e3304f" stroke-width="1.6"/><line x1="1286.3" y1="182.2" x2="1283.3" y2="182.2" stroke="#e3304f" stroke-width="1.6"/><line x1="1286.3" y1="171.9" x2="1283.3" y2="171.9" stroke="#e3304f" stroke-width="1.6"/><line x1="1286.3" y1="161.6" x2="1280.8" y2="161.6" stroke="#e3304f" stroke-width="1.6"/><line x1="1286.3" y1="151.3" x2="1283.3" y2="151.3" stroke="#e3304f" stroke-width="1.6"/><path d="M908,140.7 V347.6 M908,140.7 H1286.3 M908,347.6 H1286.3" stroke="#3c3c3c" stroke-width="1.9" fill="none" stroke-linecap="square"/><path d="M1286.3,140.7 V347.6" stroke="#e3304f" stroke-width="1.9" fill="none" stroke-linecap="square"/><line x1="1302" y1="140.7" x2="1302" y2="146.2" stroke="#3c3c3c" stroke-width="1.7"/><line x1="1302" y1="347.6" x2="1302" y2="342.1" stroke="#3c3c3c" stroke-width="1.7"/><line x1="1312.5" y1="140.7" x2="1312.5" y2="143.7" stroke="#3c3c3c" stroke-width="1.7"/><line x1="1312.5" y1="347.6" x2="1312.5" y2="344.6" stroke="#3c3c3c" stroke-width="1.7"/><line x1="1323" y1="140.7" x2="1323" y2="143.7" stroke="#3c3c3c" stroke-width="1.7"/><line x1="1323" y1="347.6" x2="1323" y2="344.6" stroke="#3c3c3c" stroke-width="1.7"/><line x1="1333.5" y1="140.7" x2="1333.5" y2="143.7" stroke="#3c3c3c" stroke-width="1.7"/><line x1="1333.5" y1="347.6" x2="1333.5" y2="344.6" stroke="#3c3c3c" stroke-width="1.7"/><line x1="1344" y1="140.7" x2="1344" y2="143.7" stroke="#3c3c3c" stroke-width="1.7"/><line x1="1344" y1="347.6" x2="1344" y2="344.6" stroke="#3c3c3c" stroke-width="1.7"/><line x1="1354.5" y1="140.7" x2="1354.5" y2="146.2" stroke="#3c3c3c" stroke-width="1.7"/><line x1="1354.5" y1="347.6" x2="1354.5" y2="342.1" stroke="#3c3c3c" stroke-width="1.7"/><line x1="1365" y1="140.7" x2="1365" y2="143.7" stroke="#3c3c3c" stroke-width="1.7"/><line x1="1365" y1="347.6" x2="1365" y2="344.6" stroke="#3c3c3c" stroke-width="1.7"/><line x1="1375.5" y1="140.7" x2="1375.5" y2="143.7" stroke="#3c3c3c" stroke-width="1.7"/><line x1="1375.5" y1="347.6" x2="1375.5" y2="344.6" stroke="#3c3c3c" stroke-width="1.7"/><line x1="1386" y1="140.7" x2="1386" y2="143.7" stroke="#3c3c3c" stroke-width="1.7"/><line x1="1386" y1="347.6" x2="1386" y2="344.6" stroke="#3c3c3c" stroke-width="1.7"/><line x1="1396.5" y1="140.7" x2="1396.5" y2="143.7" stroke="#3c3c3c" stroke-width="1.7"/><line x1="1396.5" y1="347.6" x2="1396.5" y2="344.6" stroke="#3c3c3c" stroke-width="1.7"/><line x1="1407" y1="140.7" x2="1407" y2="146.2" stroke="#3c3c3c" stroke-width="1.7"/><line x1="1407" y1="347.6" x2="1407" y2="342.1" stroke="#3c3c3c" stroke-width="1.7"/><line x1="1417.5" y1="140.7" x2="1417.5" y2="143.7" stroke="#3c3c3c" stroke-width="1.7"/><line x1="1417.5" y1="347.6" x2="1417.5" y2="344.6" stroke="#3c3c3c" stroke-width="1.7"/><line x1="1428" y1="140.7" x2="1428" y2="143.7" stroke="#3c3c3c" stroke-width="1.7"/><line x1="1428" y1="347.6" x2="1428" y2="344.6" stroke="#3c3c3c" stroke-width="1.7"/><line x1="1438.5" y1="140.7" x2="1438.5" y2="143.7" stroke="#3c3c3c" stroke-width="1.7"/><line x1="1438.5" y1="347.6" x2="1438.5" y2="344.6" stroke="#3c3c3c" stroke-width="1.7"/><line x1="1449" y1="140.7" x2="1449" y2="143.7" stroke="#3c3c3c" stroke-width="1.7"/><line x1="1449" y1="347.6" x2="1449" y2="344.6" stroke="#3c3c3c" stroke-width="1.7"/><line x1="1459.5" y1="140.7" x2="1459.5" y2="146.2" stroke="#3c3c3c" stroke-width="1.7"/><line x1="1459.5" y1="347.6" x2="1459.5" y2="342.1" stroke="#3c3c3c" stroke-width="1.7"/><line x1="1470" y1="140.7" x2="1470" y2="143.7" stroke="#3c3c3c" stroke-width="1.7"/><line x1="1470" y1="347.6" x2="1470" y2="344.6" stroke="#3c3c3c" stroke-width="1.7"/><line x1="1480.5" y1="140.7" x2="1480.5" y2="143.7" stroke="#3c3c3c" stroke-width="1.7"/><line x1="1480.5" y1="347.6" x2="1480.5" y2="344.6" stroke="#3c3c3c" stroke-width="1.7"/><line x1="1491" y1="140.7" x2="1491" y2="143.7" stroke="#3c3c3c" stroke-width="1.7"/><line x1="1491" y1="347.6" x2="1491" y2="344.6" stroke="#3c3c3c" stroke-width="1.7"/><line x1="1501.5" y1="140.7" x2="1501.5" y2="143.7" stroke="#3c3c3c" stroke-width="1.7"/><line x1="1501.5" y1="347.6" x2="1501.5" y2="344.6" stroke="#3c3c3c" stroke-width="1.7"/><line x1="1512" y1="140.7" x2="1512" y2="146.2" stroke="#3c3c3c" stroke-width="1.7"/><line x1="1512" y1="347.6" x2="1512" y2="342.1" stroke="#3c3c3c" stroke-width="1.7"/><line x1="1522.5" y1="140.7" x2="1522.5" y2="143.7" stroke="#3c3c3c" stroke-width="1.7"/><line x1="1522.5" y1="347.6" x2="1522.5" y2="344.6" stroke="#3c3c3c" stroke-width="1.7"/><line x1="1533" y1="140.7" x2="1533" y2="143.7" stroke="#3c3c3c" stroke-width="1.7"/><line x1="1533" y1="347.6" x2="1533" y2="344.6" stroke="#3c3c3c" stroke-width="1.7"/><line x1="1543.5" y1="140.7" x2="1543.5" y2="143.7" stroke="#3c3c3c" stroke-width="1.7"/><line x1="1543.5" y1="347.6" x2="1543.5" y2="344.6" stroke="#3c3c3c" stroke-width="1.7"/><line x1="1554" y1="140.7" x2="1554" y2="143.7" stroke="#3c3c3c" stroke-width="1.7"/><line x1="1554" y1="347.6" x2="1554" y2="344.6" stroke="#3c3c3c" stroke-width="1.7"/><line x1="1291.2" y1="336.44" x2="1294.2" y2="336.44" stroke="#3c3c3c" stroke-width="1.6"/><line x1="1291.2" y1="324.9" x2="1296.7" y2="324.9" stroke="#3c3c3c" stroke-width="1.6"/><line x1="1291.2" y1="313.36" x2="1294.2" y2="313.36" stroke="#3c3c3c" stroke-width="1.6"/><line x1="1291.2" y1="301.82" x2="1294.2" y2="301.82" stroke="#3c3c3c" stroke-width="1.6"/><line x1="1291.2" y1="290.29" x2="1294.2" y2="290.29" stroke="#3c3c3c" stroke-width="1.6"/><line x1="1291.2" y1="278.75" x2="1296.7" y2="278.75" stroke="#3c3c3c" stroke-width="1.6"/><line x1="1291.2" y1="267.21" x2="1294.2" y2="267.21" stroke="#3c3c3c" stroke-width="1.6"/><line x1="1291.2" y1="255.67" x2="1294.2" y2="255.67" stroke="#3c3c3c" stroke-width="1.6"/><line x1="1291.2" y1="244.14" x2="1294.2" y2="244.14" stroke="#3c3c3c" stroke-width="1.6"/><line x1="1291.2" y1="232.6" x2="1296.7" y2="232.6" stroke="#3c3c3c" stroke-width="1.6"/><line x1="1291.2" y1="221.06" x2="1294.2" y2="221.06" stroke="#3c3c3c" stroke-width="1.6"/><line x1="1291.2" y1="209.52" x2="1294.2" y2="209.52" stroke="#3c3c3c" stroke-width="1.6"/><line x1="1291.2" y1="197.99" x2="1294.2" y2="197.99" stroke="#3c3c3c" stroke-width="1.6"/><line x1="1291.2" y1="186.45" x2="1296.7" y2="186.45" stroke="#3c3c3c" stroke-width="1.6"/><line x1="1291.2" y1="174.91" x2="1294.2" y2="174.91" stroke="#3c3c3c" stroke-width="1.6"/><line x1="1291.2" y1="163.37" x2="1294.2" y2="163.37" stroke="#3c3c3c" stroke-width="1.6"/><line x1="1291.2" y1="151.84" x2="1294.2" y2="151.84" stroke="#3c3c3c" stroke-width="1.6"/><line x1="1564.5" y1="336.7" x2="1561.5" y2="336.7" stroke="#e3304f" stroke-width="1.6"/><line x1="1564.5" y1="326.4" x2="1559" y2="326.4" stroke="#e3304f" stroke-width="1.6"/><line x1="1564.5" y1="316.1" x2="1561.5" y2="316.1" stroke="#e3304f" stroke-width="1.6"/><line x1="1564.5" y1="305.8" x2="1561.5" y2="305.8" stroke="#e3304f" stroke-width="1.6"/><line x1="1564.5" y1="295.5" x2="1561.5" y2="295.5" stroke="#e3304f" stroke-width="1.6"/><line x1="1564.5" y1="285.2" x2="1559" y2="285.2" stroke="#e3304f" stroke-width="1.6"/><line x1="1564.5" y1="274.9" x2="1561.5" y2="274.9" stroke="#e3304f" stroke-width="1.6"/><line x1="1564.5" y1="264.6" x2="1561.5" y2="264.6" stroke="#e3304f" stroke-width="1.6"/><line x1="1564.5" y1="254.3" x2="1561.5" y2="254.3" stroke="#e3304f" stroke-width="1.6"/><line x1="1564.5" y1="244" x2="1559" y2="244" stroke="#e3304f" stroke-width="1.6"/><line x1="1564.5" y1="233.7" x2="1561.5" y2="233.7" stroke="#e3304f" stroke-width="1.6"/><line x1="1564.5" y1="223.4" x2="1561.5" y2="223.4" stroke="#e3304f" stroke-width="1.6"/><line x1="1564.5" y1="213.1" x2="1561.5" y2="213.1" stroke="#e3304f" stroke-width="1.6"/><line x1="1564.5" y1="202.8" x2="1559" y2="202.8" stroke="#e3304f" stroke-width="1.6"/><line x1="1564.5" y1="192.5" x2="1561.5" y2="192.5" stroke="#e3304f" stroke-width="1.6"/><line x1="1564.5" y1="182.2" x2="1561.5" y2="182.2" stroke="#e3304f" stroke-width="1.6"/><line x1="1564.5" y1="171.9" x2="1561.5" y2="171.9" stroke="#e3304f" stroke-width="1.6"/><line x1="1564.5" y1="161.6" x2="1559" y2="161.6" stroke="#e3304f" stroke-width="1.6"/><line x1="1564.5" y1="151.3" x2="1561.5" y2="151.3" stroke="#e3304f" stroke-width="1.6"/><path d="M1291.2,140.7 V347.6 M1291.2,140.7 H1564.5 M1291.2,347.6 H1564.5" stroke="#3c3c3c" stroke-width="1.9" fill="none" stroke-linecap="square"/><path d="M1564.5,140.7 V347.6" stroke="#e3304f" stroke-width="1.9" fill="none" stroke-linecap="square"/><text x="901" y="144.6" font-size="16" fill="#2a2a2a" text-anchor="end" font-weight="normal" font-family="'Liberation Sans', Arial, Helvetica, sans-serif" textLength="30" lengthAdjust="spacingAndGlyphs" stroke="#2a2a2a" stroke-width="0.5" stroke-linejoin="round">2.88</text><text x="901" y="190.75" font-size="16" fill="#2a2a2a" text-anchor="end" font-weight="normal" font-family="'Liberation Sans', Arial, Helvetica, sans-serif" textLength="30" lengthAdjust="spacingAndGlyphs" stroke="#2a2a2a" stroke-width="0.5" stroke-linejoin="round">2.87</text><text x="901" y="236.9" font-size="16" fill="#2a2a2a" text-anchor="end" font-weight="normal" font-family="'Liberation Sans', Arial, Helvetica, sans-serif" textLength="30" lengthAdjust="spacingAndGlyphs" stroke="#2a2a2a" stroke-width="0.5" stroke-linejoin="round">2.86</text><text x="901" y="283.05" font-size="16" fill="#2a2a2a" text-anchor="end" font-weight="normal" font-family="'Liberation Sans', Arial, Helvetica, sans-serif" textLength="30" lengthAdjust="spacingAndGlyphs" stroke="#2a2a2a" stroke-width="0.5" stroke-linejoin="round">2.85</text><text x="901" y="329.2" font-size="16" fill="#2a2a2a" text-anchor="end" font-weight="normal" font-family="'Liberation Sans', Arial, Helvetica, sans-serif" textLength="30" lengthAdjust="spacingAndGlyphs" stroke="#2a2a2a" stroke-width="0.5" stroke-linejoin="round">2.84</text><text x="1571.5" y="166.4" font-size="16" fill="#e3304f" text-anchor="start" font-weight="normal" font-family="'Liberation Sans', Arial, Helvetica, sans-serif" textLength="38" lengthAdjust="spacingAndGlyphs" stroke="#e3304f" stroke-width="0.5" stroke-linejoin="round">14.32</text><text x="1571.5" y="207.6" font-size="16" fill="#e3304f" text-anchor="start" font-weight="normal" font-family="'Liberation Sans', Arial, Helvetica, sans-serif" textLength="38" lengthAdjust="spacingAndGlyphs" stroke="#e3304f" stroke-width="0.5" stroke-linejoin="round">14.30</text><text x="1571.5" y="248.8" font-size="16" fill="#e3304f" text-anchor="start" font-weight="normal" font-family="'Liberation Sans', Arial, Helvetica, sans-serif" textLength="38" lengthAdjust="spacingAndGlyphs" stroke="#e3304f" stroke-width="0.5" stroke-linejoin="round">14.28</text><text x="1571.5" y="290" font-size="16" fill="#e3304f" text-anchor="start" font-weight="normal" font-family="'Liberation Sans', Arial, Helvetica, sans-serif" textLength="38" lengthAdjust="spacingAndGlyphs" stroke="#e3304f" stroke-width="0.5" stroke-linejoin="round">14.26</text><text x="1571.5" y="331.2" font-size="16" fill="#e3304f" text-anchor="start" font-weight="normal" font-family="'Liberation Sans', Arial, Helvetica, sans-serif" textLength="38" lengthAdjust="spacingAndGlyphs" stroke="#e3304f" stroke-width="0.5" stroke-linejoin="round">14.24</text><line x1="918.3" y1="357" x2="918.3" y2="362.5" stroke="#3c3c3c" stroke-width="1.7"/><line x1="918.3" y1="563" x2="918.3" y2="557.5" stroke="#3c3c3c" stroke-width="1.7"/><line x1="928.83" y1="357" x2="928.83" y2="360" stroke="#3c3c3c" stroke-width="1.7"/><line x1="928.83" y1="563" x2="928.83" y2="560" stroke="#3c3c3c" stroke-width="1.7"/><line x1="939.36" y1="357" x2="939.36" y2="360" stroke="#3c3c3c" stroke-width="1.7"/><line x1="939.36" y1="563" x2="939.36" y2="560" stroke="#3c3c3c" stroke-width="1.7"/><line x1="949.89" y1="357" x2="949.89" y2="360" stroke="#3c3c3c" stroke-width="1.7"/><line x1="949.89" y1="563" x2="949.89" y2="560" stroke="#3c3c3c" stroke-width="1.7"/><line x1="960.42" y1="357" x2="960.42" y2="360" stroke="#3c3c3c" stroke-width="1.7"/><line x1="960.42" y1="563" x2="960.42" y2="560" stroke="#3c3c3c" stroke-width="1.7"/><line x1="970.95" y1="357" x2="970.95" y2="362.5" stroke="#3c3c3c" stroke-width="1.7"/><line x1="970.95" y1="563" x2="970.95" y2="557.5" stroke="#3c3c3c" stroke-width="1.7"/><line x1="981.48" y1="357" x2="981.48" y2="360" stroke="#3c3c3c" stroke-width="1.7"/><line x1="981.48" y1="563" x2="981.48" y2="560" stroke="#3c3c3c" stroke-width="1.7"/><line x1="992.01" y1="357" x2="992.01" y2="360" stroke="#3c3c3c" stroke-width="1.7"/><line x1="992.01" y1="563" x2="992.01" y2="560" stroke="#3c3c3c" stroke-width="1.7"/><line x1="1002.54" y1="357" x2="1002.54" y2="360" stroke="#3c3c3c" stroke-width="1.7"/><line x1="1002.54" y1="563" x2="1002.54" y2="560" stroke="#3c3c3c" stroke-width="1.7"/><line x1="1013.07" y1="357" x2="1013.07" y2="360" stroke="#3c3c3c" stroke-width="1.7"/><line x1="1013.07" y1="563" x2="1013.07" y2="560" stroke="#3c3c3c" stroke-width="1.7"/><line x1="1023.6" y1="357" x2="1023.6" y2="362.5" stroke="#3c3c3c" stroke-width="1.7"/><line x1="1023.6" y1="563" x2="1023.6" y2="557.5" stroke="#3c3c3c" stroke-width="1.7"/><line x1="1034.13" y1="357" x2="1034.13" y2="360" stroke="#3c3c3c" stroke-width="1.7"/><line x1="1034.13" y1="563" x2="1034.13" y2="560" stroke="#3c3c3c" stroke-width="1.7"/><line x1="1044.66" y1="357" x2="1044.66" y2="360" stroke="#3c3c3c" stroke-width="1.7"/><line x1="1044.66" y1="563" x2="1044.66" y2="560" stroke="#3c3c3c" stroke-width="1.7"/><line x1="1055.19" y1="357" x2="1055.19" y2="360" stroke="#3c3c3c" stroke-width="1.7"/><line x1="1055.19" y1="563" x2="1055.19" y2="560" stroke="#3c3c3c" stroke-width="1.7"/><line x1="1065.72" y1="357" x2="1065.72" y2="360" stroke="#3c3c3c" stroke-width="1.7"/><line x1="1065.72" y1="563" x2="1065.72" y2="560" stroke="#3c3c3c" stroke-width="1.7"/><line x1="1076.25" y1="357" x2="1076.25" y2="362.5" stroke="#3c3c3c" stroke-width="1.7"/><line x1="1076.25" y1="563" x2="1076.25" y2="557.5" stroke="#3c3c3c" stroke-width="1.7"/><line x1="1086.78" y1="357" x2="1086.78" y2="360" stroke="#3c3c3c" stroke-width="1.7"/><line x1="1086.78" y1="563" x2="1086.78" y2="560" stroke="#3c3c3c" stroke-width="1.7"/><line x1="1097.31" y1="357" x2="1097.31" y2="360" stroke="#3c3c3c" stroke-width="1.7"/><line x1="1097.31" y1="563" x2="1097.31" y2="560" stroke="#3c3c3c" stroke-width="1.7"/><line x1="1107.84" y1="357" x2="1107.84" y2="360" stroke="#3c3c3c" stroke-width="1.7"/><line x1="1107.84" y1="563" x2="1107.84" y2="560" stroke="#3c3c3c" stroke-width="1.7"/><line x1="1118.37" y1="357" x2="1118.37" y2="360" stroke="#3c3c3c" stroke-width="1.7"/><line x1="1118.37" y1="563" x2="1118.37" y2="560" stroke="#3c3c3c" stroke-width="1.7"/><line x1="1128.9" y1="357" x2="1128.9" y2="362.5" stroke="#3c3c3c" stroke-width="1.7"/><line x1="1128.9" y1="563" x2="1128.9" y2="557.5" stroke="#3c3c3c" stroke-width="1.7"/><line x1="1139.43" y1="357" x2="1139.43" y2="360" stroke="#3c3c3c" stroke-width="1.7"/><line x1="1139.43" y1="563" x2="1139.43" y2="560" stroke="#3c3c3c" stroke-width="1.7"/><line x1="1149.96" y1="357" x2="1149.96" y2="360" stroke="#3c3c3c" stroke-width="1.7"/><line x1="1149.96" y1="563" x2="1149.96" y2="560" stroke="#3c3c3c" stroke-width="1.7"/><line x1="1160.49" y1="357" x2="1160.49" y2="360" stroke="#3c3c3c" stroke-width="1.7"/><line x1="1160.49" y1="563" x2="1160.49" y2="560" stroke="#3c3c3c" stroke-width="1.7"/><line x1="1171.02" y1="357" x2="1171.02" y2="360" stroke="#3c3c3c" stroke-width="1.7"/><line x1="1171.02" y1="563" x2="1171.02" y2="560" stroke="#3c3c3c" stroke-width="1.7"/><line x1="1181.55" y1="357" x2="1181.55" y2="362.5" stroke="#3c3c3c" stroke-width="1.7"/><line x1="1181.55" y1="563" x2="1181.55" y2="557.5" stroke="#3c3c3c" stroke-width="1.7"/><line x1="1192.08" y1="357" x2="1192.08" y2="360" stroke="#3c3c3c" stroke-width="1.7"/><line x1="1192.08" y1="563" x2="1192.08" y2="560" stroke="#3c3c3c" stroke-width="1.7"/><line x1="1202.61" y1="357" x2="1202.61" y2="360" stroke="#3c3c3c" stroke-width="1.7"/><line x1="1202.61" y1="563" x2="1202.61" y2="560" stroke="#3c3c3c" stroke-width="1.7"/><line x1="1213.14" y1="357" x2="1213.14" y2="360" stroke="#3c3c3c" stroke-width="1.7"/><line x1="1213.14" y1="563" x2="1213.14" y2="560" stroke="#3c3c3c" stroke-width="1.7"/><line x1="1223.67" y1="357" x2="1223.67" y2="360" stroke="#3c3c3c" stroke-width="1.7"/><line x1="1223.67" y1="563" x2="1223.67" y2="560" stroke="#3c3c3c" stroke-width="1.7"/><line x1="1234.2" y1="357" x2="1234.2" y2="362.5" stroke="#3c3c3c" stroke-width="1.7"/><line x1="1234.2" y1="563" x2="1234.2" y2="557.5" stroke="#3c3c3c" stroke-width="1.7"/><line x1="1244.73" y1="357" x2="1244.73" y2="360" stroke="#3c3c3c" stroke-width="1.7"/><line x1="1244.73" y1="563" x2="1244.73" y2="560" stroke="#3c3c3c" stroke-width="1.7"/><line x1="1255.26" y1="357" x2="1255.26" y2="360" stroke="#3c3c3c" stroke-width="1.7"/><line x1="1255.26" y1="563" x2="1255.26" y2="560" stroke="#3c3c3c" stroke-width="1.7"/><line x1="1265.79" y1="357" x2="1265.79" y2="360" stroke="#3c3c3c" stroke-width="1.7"/><line x1="1265.79" y1="563" x2="1265.79" y2="560" stroke="#3c3c3c" stroke-width="1.7"/><line x1="1276.32" y1="357" x2="1276.32" y2="360" stroke="#3c3c3c" stroke-width="1.7"/><line x1="1276.32" y1="563" x2="1276.32" y2="560" stroke="#3c3c3c" stroke-width="1.7"/><line x1="908" y1="554.3" x2="913.5" y2="554.3" stroke="#3c3c3c" stroke-width="1.6"/><line x1="908" y1="539.1" x2="911" y2="539.1" stroke="#3c3c3c" stroke-width="1.6"/><line x1="908" y1="523.9" x2="913.5" y2="523.9" stroke="#3c3c3c" stroke-width="1.6"/><line x1="908" y1="508.7" x2="911" y2="508.7" stroke="#3c3c3c" stroke-width="1.6"/><line x1="908" y1="493.5" x2="913.5" y2="493.5" stroke="#3c3c3c" stroke-width="1.6"/><line x1="908" y1="478.3" x2="911" y2="478.3" stroke="#3c3c3c" stroke-width="1.6"/><line x1="908" y1="463.1" x2="913.5" y2="463.1" stroke="#3c3c3c" stroke-width="1.6"/><line x1="908" y1="447.9" x2="911" y2="447.9" stroke="#3c3c3c" stroke-width="1.6"/><line x1="908" y1="432.7" x2="913.5" y2="432.7" stroke="#3c3c3c" stroke-width="1.6"/><line x1="908" y1="417.5" x2="911" y2="417.5" stroke="#3c3c3c" stroke-width="1.6"/><line x1="908" y1="402.3" x2="913.5" y2="402.3" stroke="#3c3c3c" stroke-width="1.6"/><line x1="908" y1="387.1" x2="911" y2="387.1" stroke="#3c3c3c" stroke-width="1.6"/><line x1="908" y1="371.9" x2="913.5" y2="371.9" stroke="#3c3c3c" stroke-width="1.6"/><line x1="1286.3" y1="561.6" x2="1283.3" y2="561.6" stroke="#e3304f" stroke-width="1.6"/><line x1="1286.3" y1="546.9" x2="1280.8" y2="546.9" stroke="#e3304f" stroke-width="1.6"/><line x1="1286.3" y1="532.2" x2="1283.3" y2="532.2" stroke="#e3304f" stroke-width="1.6"/><line x1="1286.3" y1="517.5" x2="1280.8" y2="517.5" stroke="#e3304f" stroke-width="1.6"/><line x1="1286.3" y1="502.8" x2="1283.3" y2="502.8" stroke="#e3304f" stroke-width="1.6"/><line x1="1286.3" y1="488.1" x2="1280.8" y2="488.1" stroke="#e3304f" stroke-width="1.6"/><line x1="1286.3" y1="473.4" x2="1283.3" y2="473.4" stroke="#e3304f" stroke-width="1.6"/><line x1="1286.3" y1="458.7" x2="1280.8" y2="458.7" stroke="#e3304f" stroke-width="1.6"/><line x1="1286.3" y1="444" x2="1283.3" y2="444" stroke="#e3304f" stroke-width="1.6"/><line x1="1286.3" y1="429.3" x2="1280.8" y2="429.3" stroke="#e3304f" stroke-width="1.6"/><line x1="1286.3" y1="414.6" x2="1283.3" y2="414.6" stroke="#e3304f" stroke-width="1.6"/><line x1="1286.3" y1="399.9" x2="1280.8" y2="399.9" stroke="#e3304f" stroke-width="1.6"/><line x1="1286.3" y1="385.2" x2="1283.3" y2="385.2" stroke="#e3304f" stroke-width="1.6"/><line x1="1286.3" y1="370.5" x2="1280.8" y2="370.5" stroke="#e3304f" stroke-width="1.6"/><path d="M908,357 V563 M908,357 H1286.3 M908,563 H1286.3" stroke="#3c3c3c" stroke-width="1.9" fill="none" stroke-linecap="square"/><path d="M1286.3,357 V563" stroke="#e3304f" stroke-width="1.9" fill="none" stroke-linecap="square"/><line x1="1302" y1="357" x2="1302" y2="362.5" stroke="#3c3c3c" stroke-width="1.7"/><line x1="1302" y1="563" x2="1302" y2="557.5" stroke="#3c3c3c" stroke-width="1.7"/><line x1="1312.5" y1="357" x2="1312.5" y2="360" stroke="#3c3c3c" stroke-width="1.7"/><line x1="1312.5" y1="563" x2="1312.5" y2="560" stroke="#3c3c3c" stroke-width="1.7"/><line x1="1323" y1="357" x2="1323" y2="360" stroke="#3c3c3c" stroke-width="1.7"/><line x1="1323" y1="563" x2="1323" y2="560" stroke="#3c3c3c" stroke-width="1.7"/><line x1="1333.5" y1="357" x2="1333.5" y2="360" stroke="#3c3c3c" stroke-width="1.7"/><line x1="1333.5" y1="563" x2="1333.5" y2="560" stroke="#3c3c3c" stroke-width="1.7"/><line x1="1344" y1="357" x2="1344" y2="360" stroke="#3c3c3c" stroke-width="1.7"/><line x1="1344" y1="563" x2="1344" y2="560" stroke="#3c3c3c" stroke-width="1.7"/><line x1="1354.5" y1="357" x2="1354.5" y2="362.5" stroke="#3c3c3c" stroke-width="1.7"/><line x1="1354.5" y1="563" x2="1354.5" y2="557.5" stroke="#3c3c3c" stroke-width="1.7"/><line x1="1365" y1="357" x2="1365" y2="360" stroke="#3c3c3c" stroke-width="1.7"/><line x1="1365" y1="563" x2="1365" y2="560" stroke="#3c3c3c" stroke-width="1.7"/><line x1="1375.5" y1="357" x2="1375.5" y2="360" stroke="#3c3c3c" stroke-width="1.7"/><line x1="1375.5" y1="563" x2="1375.5" y2="560" stroke="#3c3c3c" stroke-width="1.7"/><line x1="1386" y1="357" x2="1386" y2="360" stroke="#3c3c3c" stroke-width="1.7"/><line x1="1386" y1="563" x2="1386" y2="560" stroke="#3c3c3c" stroke-width="1.7"/><line x1="1396.5" y1="357" x2="1396.5" y2="360" stroke="#3c3c3c" stroke-width="1.7"/><line x1="1396.5" y1="563" x2="1396.5" y2="560" stroke="#3c3c3c" stroke-width="1.7"/><line x1="1407" y1="357" x2="1407" y2="362.5" stroke="#3c3c3c" stroke-width="1.7"/><line x1="1407" y1="563" x2="1407" y2="557.5" stroke="#3c3c3c" stroke-width="1.7"/><line x1="1417.5" y1="357" x2="1417.5" y2="360" stroke="#3c3c3c" stroke-width="1.7"/><line x1="1417.5" y1="563" x2="1417.5" y2="560" stroke="#3c3c3c" stroke-width="1.7"/><line x1="1428" y1="357" x2="1428" y2="360" stroke="#3c3c3c" stroke-width="1.7"/><line x1="1428" y1="563" x2="1428" y2="560" stroke="#3c3c3c" stroke-width="1.7"/><line x1="1438.5" y1="357" x2="1438.5" y2="360" stroke="#3c3c3c" stroke-width="1.7"/><line x1="1438.5" y1="563" x2="1438.5" y2="560" stroke="#3c3c3c" stroke-width="1.7"/><line x1="1449" y1="357" x2="1449" y2="360" stroke="#3c3c3c" stroke-width="1.7"/><line x1="1449" y1="563" x2="1449" y2="560" stroke="#3c3c3c" stroke-width="1.7"/><line x1="1459.5" y1="357" x2="1459.5" y2="362.5" stroke="#3c3c3c" stroke-width="1.7"/><line x1="1459.5" y1="563" x2="1459.5" y2="557.5" stroke="#3c3c3c" stroke-width="1.7"/><line x1="1470" y1="357" x2="1470" y2="360" stroke="#3c3c3c" stroke-width="1.7"/><line x1="1470" y1="563" x2="1470" y2="560" stroke="#3c3c3c" stroke-width="1.7"/><line x1="1480.5" y1="357" x2="1480.5" y2="360" stroke="#3c3c3c" stroke-width="1.7"/><line x1="1480.5" y1="563" x2="1480.5" y2="560" stroke="#3c3c3c" stroke-width="1.7"/><line x1="1491" y1="357" x2="1491" y2="360" stroke="#3c3c3c" stroke-width="1.7"/><line x1="1491" y1="563" x2="1491" y2="560" stroke="#3c3c3c" stroke-width="1.7"/><line x1="1501.5" y1="357" x2="1501.5" y2="360" stroke="#3c3c3c" stroke-width="1.7"/><line x1="1501.5" y1="563" x2="1501.5" y2="560" stroke="#3c3c3c" stroke-width="1.7"/><line x1="1512" y1="357" x2="1512" y2="362.5" stroke="#3c3c3c" stroke-width="1.7"/><line x1="1512" y1="563" x2="1512" y2="557.5" stroke="#3c3c3c" stroke-width="1.7"/><line x1="1522.5" y1="357" x2="1522.5" y2="360" stroke="#3c3c3c" stroke-width="1.7"/><line x1="1522.5" y1="563" x2="1522.5" y2="560" stroke="#3c3c3c" stroke-width="1.7"/><line x1="1533" y1="357" x2="1533" y2="360" stroke="#3c3c3c" stroke-width="1.7"/><line x1="1533" y1="563" x2="1533" y2="560" stroke="#3c3c3c" stroke-width="1.7"/><line x1="1543.5" y1="357" x2="1543.5" y2="360" stroke="#3c3c3c" stroke-width="1.7"/><line x1="1543.5" y1="563" x2="1543.5" y2="560" stroke="#3c3c3c" stroke-width="1.7"/><line x1="1554" y1="357" x2="1554" y2="360" stroke="#3c3c3c" stroke-width="1.7"/><line x1="1554" y1="563" x2="1554" y2="560" stroke="#3c3c3c" stroke-width="1.7"/><line x1="1291.2" y1="554.3" x2="1296.7" y2="554.3" stroke="#3c3c3c" stroke-width="1.6"/><line x1="1291.2" y1="539.1" x2="1294.2" y2="539.1" stroke="#3c3c3c" stroke-width="1.6"/><line x1="1291.2" y1="523.9" x2="1296.7" y2="523.9" stroke="#3c3c3c" stroke-width="1.6"/><line x1="1291.2" y1="508.7" x2="1294.2" y2="508.7" stroke="#3c3c3c" stroke-width="1.6"/><line x1="1291.2" y1="493.5" x2="1296.7" y2="493.5" stroke="#3c3c3c" stroke-width="1.6"/><line x1="1291.2" y1="478.3" x2="1294.2" y2="478.3" stroke="#3c3c3c" stroke-width="1.6"/><line x1="1291.2" y1="463.1" x2="1296.7" y2="463.1" stroke="#3c3c3c" stroke-width="1.6"/><line x1="1291.2" y1="447.9" x2="1294.2" y2="447.9" stroke="#3c3c3c" stroke-width="1.6"/><line x1="1291.2" y1="432.7" x2="1296.7" y2="432.7" stroke="#3c3c3c" stroke-width="1.6"/><line x1="1291.2" y1="417.5" x2="1294.2" y2="417.5" stroke="#3c3c3c" stroke-width="1.6"/><line x1="1291.2" y1="402.3" x2="1296.7" y2="402.3" stroke="#3c3c3c" stroke-width="1.6"/><line x1="1291.2" y1="387.1" x2="1294.2" y2="387.1" stroke="#3c3c3c" stroke-width="1.6"/><line x1="1291.2" y1="371.9" x2="1296.7" y2="371.9" stroke="#3c3c3c" stroke-width="1.6"/><line x1="1564.5" y1="561.6" x2="1561.5" y2="561.6" stroke="#e3304f" stroke-width="1.6"/><line x1="1564.5" y1="546.9" x2="1559" y2="546.9" stroke="#e3304f" stroke-width="1.6"/><line x1="1564.5" y1="532.2" x2="1561.5" y2="532.2" stroke="#e3304f" stroke-width="1.6"/><line x1="1564.5" y1="517.5" x2="1559" y2="517.5" stroke="#e3304f" stroke-width="1.6"/><line x1="1564.5" y1="502.8" x2="1561.5" y2="502.8" stroke="#e3304f" stroke-width="1.6"/><line x1="1564.5" y1="488.1" x2="1559" y2="488.1" stroke="#e3304f" stroke-width="1.6"/><line x1="1564.5" y1="473.4" x2="1561.5" y2="473.4" stroke="#e3304f" stroke-width="1.6"/><line x1="1564.5" y1="458.7" x2="1559" y2="458.7" stroke="#e3304f" stroke-width="1.6"/><line x1="1564.5" y1="444" x2="1561.5" y2="444" stroke="#e3304f" stroke-width="1.6"/><line x1="1564.5" y1="429.3" x2="1559" y2="429.3" stroke="#e3304f" stroke-width="1.6"/><line x1="1564.5" y1="414.6" x2="1561.5" y2="414.6" stroke="#e3304f" stroke-width="1.6"/><line x1="1564.5" y1="399.9" x2="1559" y2="399.9" stroke="#e3304f" stroke-width="1.6"/><line x1="1564.5" y1="385.2" x2="1561.5" y2="385.2" stroke="#e3304f" stroke-width="1.6"/><line x1="1564.5" y1="370.5" x2="1559" y2="370.5" stroke="#e3304f" stroke-width="1.6"/><path d="M1291.2,357 V563 M1291.2,357 H1564.5 M1291.2,563 H1564.5" stroke="#3c3c3c" stroke-width="1.9" fill="none" stroke-linecap="square"/><path d="M1564.5,357 V563" stroke="#e3304f" stroke-width="1.9" fill="none" stroke-linecap="square"/><text x="901.3" y="558.8" font-size="16" fill="#2a2a2a" text-anchor="end" font-weight="normal" font-family="'Liberation Sans', Arial, Helvetica, sans-serif" textLength="30.5" lengthAdjust="spacingAndGlyphs" stroke="#2a2a2a" stroke-width="0.5" stroke-linejoin="round">0.00</text><text x="901.3" y="528.4" font-size="16" fill="#2a2a2a" text-anchor="end" font-weight="normal" font-family="'Liberation Sans', Arial, Helvetica, sans-serif" textLength="30.5" lengthAdjust="spacingAndGlyphs" stroke="#2a2a2a" stroke-width="0.5" stroke-linejoin="round">0.02</text><text x="901.3" y="498" font-size="16" fill="#2a2a2a" text-anchor="end" font-weight="normal" font-family="'Liberation Sans', Arial, Helvetica, sans-serif" textLength="30.5" lengthAdjust="spacingAndGlyphs" stroke="#2a2a2a" stroke-width="0.5" stroke-linejoin="round">0.04</text><text x="901.3" y="467.6" font-size="16" fill="#2a2a2a" text-anchor="end" font-weight="normal" font-family="'Liberation Sans', Arial, Helvetica, sans-serif" textLength="30.5" lengthAdjust="spacingAndGlyphs" stroke="#2a2a2a" stroke-width="0.5" stroke-linejoin="round">0.06</text><text x="901.3" y="437.2" font-size="16" fill="#2a2a2a" text-anchor="end" font-weight="normal" font-family="'Liberation Sans', Arial, Helvetica, sans-serif" textLength="30.5" lengthAdjust="spacingAndGlyphs" stroke="#2a2a2a" stroke-width="0.5" stroke-linejoin="round">0.08</text><text x="901.3" y="406.8" font-size="16" fill="#2a2a2a" text-anchor="end" font-weight="normal" font-family="'Liberation Sans', Arial, Helvetica, sans-serif" textLength="30.5" lengthAdjust="spacingAndGlyphs" stroke="#2a2a2a" stroke-width="0.5" stroke-linejoin="round">0.10</text><text x="901.3" y="376.4" font-size="16" fill="#2a2a2a" text-anchor="end" font-weight="normal" font-family="'Liberation Sans', Arial, Helvetica, sans-serif" textLength="30.5" lengthAdjust="spacingAndGlyphs" stroke="#2a2a2a" stroke-width="0.5" stroke-linejoin="round">0.12</text><text x="1570.5" y="551.7" font-size="16" fill="#e3304f" text-anchor="start" font-weight="normal" font-family="'Liberation Sans', Arial, Helvetica, sans-serif" textLength="30.5" lengthAdjust="spacingAndGlyphs" stroke="#e3304f" stroke-width="0.5" stroke-linejoin="round">1.40</text><text x="1570.5" y="522.3" font-size="16" fill="#e3304f" text-anchor="start" font-weight="normal" font-family="'Liberation Sans', Arial, Helvetica, sans-serif" textLength="30.5" lengthAdjust="spacingAndGlyphs" stroke="#e3304f" stroke-width="0.5" stroke-linejoin="round">1.50</text><text x="1570.5" y="492.9" font-size="16" fill="#e3304f" text-anchor="start" font-weight="normal" font-family="'Liberation Sans', Arial, Helvetica, sans-serif" textLength="30.5" lengthAdjust="spacingAndGlyphs" stroke="#e3304f" stroke-width="0.5" stroke-linejoin="round">1.60</text><text x="1570.5" y="463.5" font-size="16" fill="#e3304f" text-anchor="start" font-weight="normal" font-family="'Liberation Sans', Arial, Helvetica, sans-serif" textLength="30.5" lengthAdjust="spacingAndGlyphs" stroke="#e3304f" stroke-width="0.5" stroke-linejoin="round">1.70</text><text x="1570.5" y="434.1" font-size="16" fill="#e3304f" text-anchor="start" font-weight="normal" font-family="'Liberation Sans', Arial, Helvetica, sans-serif" textLength="30.5" lengthAdjust="spacingAndGlyphs" stroke="#e3304f" stroke-width="0.5" stroke-linejoin="round">1.80</text><text x="1570.5" y="404.7" font-size="16" fill="#e3304f" text-anchor="start" font-weight="normal" font-family="'Liberation Sans', Arial, Helvetica, sans-serif" textLength="30.5" lengthAdjust="spacingAndGlyphs" stroke="#e3304f" stroke-width="0.5" stroke-linejoin="round">1.90</text><text x="1570.5" y="375.3" font-size="16" fill="#e3304f" text-anchor="start" font-weight="normal" font-family="'Liberation Sans', Arial, Helvetica, sans-serif" textLength="30.5" lengthAdjust="spacingAndGlyphs" stroke="#e3304f" stroke-width="0.5" stroke-linejoin="round">2.00</text><text x="918.3" y="580.8" font-size="16" fill="#2a2a2a" text-anchor="middle" font-weight="normal" font-family="'Liberation Sans', Arial, Helvetica, sans-serif" textLength="8.6" lengthAdjust="spacingAndGlyphs" stroke="#2a2a2a" stroke-width="0.5" stroke-linejoin="round">0</text><text x="970.95" y="580.8" font-size="16" fill="#2a2a2a" text-anchor="middle" font-weight="normal" font-family="'Liberation Sans', Arial, Helvetica, sans-serif" textLength="17.2" lengthAdjust="spacingAndGlyphs" stroke="#2a2a2a" stroke-width="0.5" stroke-linejoin="round">50</text><text x="1023.6" y="580.8" font-size="16" fill="#2a2a2a" text-anchor="middle" font-weight="normal" font-family="'Liberation Sans', Arial, Helvetica, sans-serif" textLength="25.8" lengthAdjust="spacingAndGlyphs" stroke="#2a2a2a" stroke-width="0.5" stroke-linejoin="round">100</text><text x="1076.25" y="580.8" font-size="16" fill="#2a2a2a" text-anchor="middle" font-weight="normal" font-family="'Liberation Sans', Arial, Helvetica, sans-serif" textLength="25.8" lengthAdjust="spacingAndGlyphs" stroke="#2a2a2a" stroke-width="0.5" stroke-linejoin="round">150</text><text x="1128.9" y="580.8" font-size="16" fill="#2a2a2a" text-anchor="middle" font-weight="normal" font-family="'Liberation Sans', Arial, Helvetica, sans-serif" textLength="25.8" lengthAdjust="spacingAndGlyphs" stroke="#2a2a2a" stroke-width="0.5" stroke-linejoin="round">200</text><text x="1181.55" y="580.8" font-size="16" fill="#2a2a2a" text-anchor="middle" font-weight="normal" font-family="'Liberation Sans', Arial, Helvetica, sans-serif" textLength="25.8" lengthAdjust="spacingAndGlyphs" stroke="#2a2a2a" stroke-width="0.5" stroke-linejoin="round">250</text><text x="1234.2" y="580.8" font-size="16" fill="#2a2a2a" text-anchor="middle" font-weight="normal" font-family="'Liberation Sans', Arial, Helvetica, sans-serif" textLength="25.8" lengthAdjust="spacingAndGlyphs" stroke="#2a2a2a" stroke-width="0.5" stroke-linejoin="round">300</text><text x="1302" y="580.8" font-size="16" fill="#2a2a2a" text-anchor="middle" font-weight="normal" font-family="'Liberation Sans', Arial, Helvetica, sans-serif" textLength="8.6" lengthAdjust="spacingAndGlyphs" stroke="#2a2a2a" stroke-width="0.5" stroke-linejoin="round">0</text><text x="1354.5" y="580.8" font-size="16" fill="#2a2a2a" text-anchor="middle" font-weight="normal" font-family="'Liberation Sans', Arial, Helvetica, sans-serif" textLength="17.2" lengthAdjust="spacingAndGlyphs" stroke="#2a2a2a" stroke-width="0.5" stroke-linejoin="round">50</text><text x="1407" y="580.8" font-size="16" fill="#2a2a2a" text-anchor="middle" font-weight="normal" font-family="'Liberation Sans', Arial, Helvetica, sans-serif" textLength="25.8" lengthAdjust="spacingAndGlyphs" stroke="#2a2a2a" stroke-width="0.5" stroke-linejoin="round">100</text><text x="1459.5" y="580.8" font-size="16" fill="#2a2a2a" text-anchor="middle" font-weight="normal" font-family="'Liberation Sans', Arial, Helvetica, sans-serif" textLength="25.8" lengthAdjust="spacingAndGlyphs" stroke="#2a2a2a" stroke-width="0.5" stroke-linejoin="round">150</text><text x="1512" y="580.8" font-size="16" fill="#2a2a2a" text-anchor="middle" font-weight="normal" font-family="'Liberation Sans', Arial, Helvetica, sans-serif" textLength="25.8" lengthAdjust="spacingAndGlyphs" stroke="#2a2a2a" stroke-width="0.5" stroke-linejoin="round">200</text><text x="1564.5" y="580.8" font-size="16" fill="#2a2a2a" text-anchor="middle" font-weight="normal" font-family="'Liberation Sans', Arial, Helvetica, sans-serif" textLength="25.8" lengthAdjust="spacingAndGlyphs" stroke="#2a2a2a" stroke-width="0.5" stroke-linejoin="round">250</text><polyline points="918.5,255.5 971,303.3 1023.5,322.3 1128.5,333.3 1262.5,331.7" fill="none" stroke="#939393" stroke-width="1.4" stroke-linejoin="round" stroke-linecap="round"/><polyline points="918.5,329.3 970.8,234.3 1023.5,172.5 1128.5,173.3 1262.7,213.3" fill="none" stroke="#f4a0ae" stroke-width="1.4" stroke-linejoin="round" stroke-linecap="round"/><line x1="1128.5" y1="163.3" x2="1128.5" y2="183" stroke="#e8001a" stroke-width="1.6"/><line x1="1124.9" y1="163.3" x2="1132.1" y2="163.3" stroke="#e8001a" stroke-width="1.6"/><line x1="1124.9" y1="183" x2="1132.1" y2="183" stroke="#e8001a" stroke-width="1.6"/><line x1="1262.7" y1="202" x2="1262.7" y2="224" stroke="#e8001a" stroke-width="1.6"/><line x1="1259.1" y1="202" x2="1266.3" y2="202" stroke="#e8001a" stroke-width="1.6"/><line x1="1259.1" y1="224" x2="1266.3" y2="224" stroke="#e8001a" stroke-width="1.6"/><rect x="912.1" y="249.1" width="12.8" height="12.8" fill="#000" stroke="#fff" stroke-width="1.2" paint-order="stroke"/><rect x="964.6" y="296.9" width="12.8" height="12.8" fill="#000" stroke="#fff" stroke-width="1.2" paint-order="stroke"/><rect x="1017.1" y="315.9" width="12.8" height="12.8" fill="#000" stroke="#fff" stroke-width="1.2" paint-order="stroke"/><rect x="1122.1" y="326.9" width="12.8" height="12.8" fill="#000" stroke="#fff" stroke-width="1.2" paint-order="stroke"/><rect x="1256.1" y="325.3" width="12.8" height="12.8" fill="#000" stroke="#fff" stroke-width="1.2" paint-order="stroke"/><circle cx="918.5" cy="329.3" r="7.2" fill="#f00010" stroke="#fff" stroke-width="1.2" paint-order="stroke"/><circle cx="970.8" cy="234.3" r="7.2" fill="#f00010" stroke="#fff" stroke-width="1.2" paint-order="stroke"/><circle cx="1023.5" cy="172.5" r="7.2" fill="#f00010" stroke="#fff" stroke-width="1.2" paint-order="stroke"/><circle cx="1128.5" cy="173.3" r="7.2" fill="#f00010" stroke="#fff" stroke-width="1.2" paint-order="stroke"/><circle cx="1262.7" cy="213.3" r="7.2" fill="#f00010" stroke="#fff" stroke-width="1.2" paint-order="stroke"/><line x1="993.3" y1="319.3" x2="936.3" y2="319.3" stroke="#111" stroke-width="3" stroke-linecap="round"/><path d="M943.8,313.9 L934.5,319.3 L943.8,324.7" stroke="#111" stroke-width="3.4" fill="none" stroke-linecap="round" stroke-linejoin="miter" stroke-miterlimit="6"/><line x1="1209" y1="186.7" x2="1267.5" y2="186.7" stroke="#dc1020" stroke-width="3" stroke-linecap="round"/><path d="M1260,181.3 L1269.3,186.7 L1260,192.1" stroke="#dc1020" stroke-width="3.4" fill="none" stroke-linecap="round" stroke-linejoin="miter" stroke-miterlimit="6"/><polyline points="1302,332.3 1417.4,243.1 1521.4,153.1" fill="none" stroke="#939393" stroke-width="1.4" stroke-linejoin="round" stroke-linecap="round"/><polyline points="1302,213.3 1417.4,266.1 1521.4,216.8" fill="none" stroke="#f4a0ae" stroke-width="1.4" stroke-linejoin="round" stroke-linecap="round"/><line x1="1302" y1="202.3" x2="1302" y2="224" stroke="#e8001a" stroke-width="1.6"/><line x1="1298.4" y1="202.3" x2="1305.6" y2="202.3" stroke="#e8001a" stroke-width="1.6"/><line x1="1298.4" y1="224" x2="1305.6" y2="224" stroke="#e8001a" stroke-width="1.6"/><rect x="1295.6" y="325.9" width="12.8" height="12.8" fill="#000" stroke="#fff" stroke-width="1.2" paint-order="stroke"/><rect x="1411" y="236.7" width="12.8" height="12.8" fill="#000" stroke="#fff" stroke-width="1.2" paint-order="stroke"/><rect x="1515" y="146.7" width="12.8" height="12.8" fill="#000" stroke="#fff" stroke-width="1.2" paint-order="stroke"/><circle cx="1302" cy="213.3" r="7.2" fill="#f00010" stroke="#fff" stroke-width="1.2" paint-order="stroke"/><circle cx="1417.4" cy="266.1" r="7.2" fill="#f00010" stroke="#fff" stroke-width="1.2" paint-order="stroke"/><circle cx="1521.4" cy="216.8" r="7.2" fill="#f00010" stroke="#fff" stroke-width="1.2" paint-order="stroke"/><polyline points="918.5,514.3 970.7,550.7 1023.8,547.7 1128.5,517.7 1262.7,382.7" fill="none" stroke="#939393" stroke-width="1.4" stroke-linejoin="round" stroke-linecap="round"/><polyline points="918.5,385 970.5,376.7 1023.8,381.7 1128.5,428.3 1262.7,547.7" fill="none" stroke="#f4a0ae" stroke-width="1.4" stroke-linejoin="round" stroke-linecap="round"/><line x1="1262.7" y1="538.3" x2="1262.7" y2="556.7" stroke="#e8001a" stroke-width="1.6"/><line x1="1259.1" y1="538.3" x2="1266.3" y2="538.3" stroke="#e8001a" stroke-width="1.6"/><line x1="1259.1" y1="556.7" x2="1266.3" y2="556.7" stroke="#e8001a" stroke-width="1.6"/><rect x="912.1" y="507.9" width="12.8" height="12.8" fill="#000" stroke="#fff" stroke-width="1.2" paint-order="stroke"/><rect x="964.3" y="544.3" width="12.8" height="12.8" fill="#000" stroke="#fff" stroke-width="1.2" paint-order="stroke"/><rect x="1017.4" y="541.3" width="12.8" height="12.8" fill="#000" stroke="#fff" stroke-width="1.2" paint-order="stroke"/><rect x="1122.1" y="511.3" width="12.8" height="12.8" fill="#000" stroke="#fff" stroke-width="1.2" paint-order="stroke"/><rect x="1256.3" y="376.3" width="12.8" height="12.8" fill="#000" stroke="#fff" stroke-width="1.2" paint-order="stroke"/><circle cx="918.5" cy="385" r="7.2" fill="#f00010" stroke="#fff" stroke-width="1.2" paint-order="stroke"/><circle cx="970.5" cy="376.7" r="7.2" fill="#f00010" stroke="#fff" stroke-width="1.2" paint-order="stroke"/><circle cx="1023.8" cy="381.7" r="7.2" fill="#f00010" stroke="#fff" stroke-width="1.2" paint-order="stroke"/><circle cx="1128.5" cy="428.3" r="7.2" fill="#f00010" stroke="#fff" stroke-width="1.2" paint-order="stroke"/><circle cx="1262.7" cy="547.7" r="7.2" fill="#f00010" stroke="#fff" stroke-width="1.2" paint-order="stroke"/><line x1="979" y1="498.2" x2="921.3" y2="498.2" stroke="#111" stroke-width="3" stroke-linecap="round"/><path d="M928.8,492.8 L919.5,498.2 L928.8,503.6" stroke="#111" stroke-width="3.4" fill="none" stroke-linecap="round" stroke-linejoin="miter" stroke-miterlimit="6"/><line x1="1214.2" y1="486.7" x2="1272.8" y2="486.7" stroke="#dc1020" stroke-width="3" stroke-linecap="round"/><path d="M1265.3,481.3 L1274.6,486.7 L1265.3,492.1" stroke="#dc1020" stroke-width="3.4" fill="none" stroke-linecap="round" stroke-linejoin="miter" stroke-miterlimit="6"/><polyline points="1302.3,383.3 1417.3,455 1521.7,373.3" fill="none" stroke="#939393" stroke-width="1.4" stroke-linejoin="round" stroke-linecap="round"/><polyline points="1302.3,547.7 1417.7,471 1521.7,462.3" fill="none" stroke="#f4a0ae" stroke-width="1.4" stroke-linejoin="round" stroke-linecap="round"/><line x1="1302.3" y1="537.7" x2="1302.3" y2="556.7" stroke="#e8001a" stroke-width="1.6"/><line x1="1298.7" y1="537.7" x2="1305.9" y2="537.7" stroke="#e8001a" stroke-width="1.6"/><line x1="1298.7" y1="556.7" x2="1305.9" y2="556.7" stroke="#e8001a" stroke-width="1.6"/><rect x="1295.9" y="376.9" width="12.8" height="12.8" fill="#000" stroke="#fff" stroke-width="1.2" paint-order="stroke"/><rect x="1410.9" y="448.6" width="12.8" height="12.8" fill="#000" stroke="#fff" stroke-width="1.2" paint-order="stroke"/><rect x="1515.3" y="366.9" width="12.8" height="12.8" fill="#000" stroke="#fff" stroke-width="1.2" paint-order="stroke"/><circle cx="1302.3" cy="547.7" r="7.2" fill="#f00010" stroke="#fff" stroke-width="1.2" paint-order="stroke"/><circle cx="1417.7" cy="471" r="7.2" fill="#f00010" stroke="#fff" stroke-width="1.2" paint-order="stroke"/><circle cx="1521.7" cy="462.3" r="7.2" fill="#f00010" stroke="#fff" stroke-width="1.2" paint-order="stroke"/><text x="1177" y="621" font-size="23.5" fill="#1a1a1a" text-anchor="start" font-weight="normal" font-family="'Liberation Sans', Arial, Helvetica, sans-serif" textLength="183.5" lengthAdjust="spacingAndGlyphs" stroke="#1a1a1a" stroke-width="0.5" stroke-linejoin="round">Capacity / mAh g<tspan font-size="14" dy="-9">−1</tspan></text><text transform="translate(845.5,124.5) rotate(-90)" x="0" y="0" font-size="23.5" fill="#1a1a1a" text-anchor="start" font-weight="normal" font-family="'Liberation Sans', Arial, Helvetica, sans-serif" textLength="119" lengthAdjust="spacingAndGlyphs" stroke="#1a1a1a" stroke-width="0.7" stroke-linejoin="round">Potential / V</text><text transform="translate(846,366.8) rotate(-90)" x="0" y="0" font-size="22.5" fill="#1a1a1a" text-anchor="start" font-weight="normal" font-family="'Liberation Sans', Arial, Helvetica, sans-serif" textLength="229.5" lengthAdjust="spacingAndGlyphs" stroke="#1a1a1a" stroke-width="0.7" stroke-linejoin="round">Lattice parameter, <tspan font-style="italic">a</tspan> / Å</text><text transform="translate(845,540.5) rotate(-90)" x="0" y="0" font-size="22.5" fill="#1a1a1a" text-anchor="start" font-weight="normal" font-family="'Liberation Sans', Arial, Helvetica, sans-serif" textLength="144" lengthAdjust="spacingAndGlyphs" stroke="#1a1a1a" stroke-width="0.7" stroke-linejoin="round">TM occupancy</text><text transform="translate(1641.3,366.5) rotate(-90)" x="0" y="0" font-size="23" fill="#d8102e" text-anchor="start" font-weight="normal" font-family="'Liberation Sans', Arial, Helvetica, sans-serif" textLength="228" lengthAdjust="spacingAndGlyphs" stroke="#d8102e" stroke-width="0.7" stroke-linejoin="round">Lattice parameter, <tspan font-style="italic">c</tspan> / Å</text><text transform="translate(1641.3,556.5) rotate(-90)" x="0" y="0" font-size="23" fill="#d8102e" text-anchor="start" font-weight="normal" font-family="'Liberation Sans', Arial, Helvetica, sans-serif" textLength="176" lengthAdjust="spacingAndGlyphs" stroke="#d8102e" stroke-width="0.7" stroke-linejoin="round">O occupancy <tspan font-size="26">×</tspan> 2</text><text x="768.5" y="189.6" font-size="43" fill="#111" text-anchor="start" font-weight="normal" font-family="'Liberation Sans', Arial, Helvetica, sans-serif" stroke="#111" stroke-width="0.5" stroke-linejoin="round">(b)</text><text x="769.5" y="392" font-size="43" fill="#111" text-anchor="start" font-weight="normal" font-family="'Liberation Sans', Arial, Helvetica, sans-serif" stroke="#111" stroke-width="0.5" stroke-linejoin="round">(c)</text></svg></body></html>
